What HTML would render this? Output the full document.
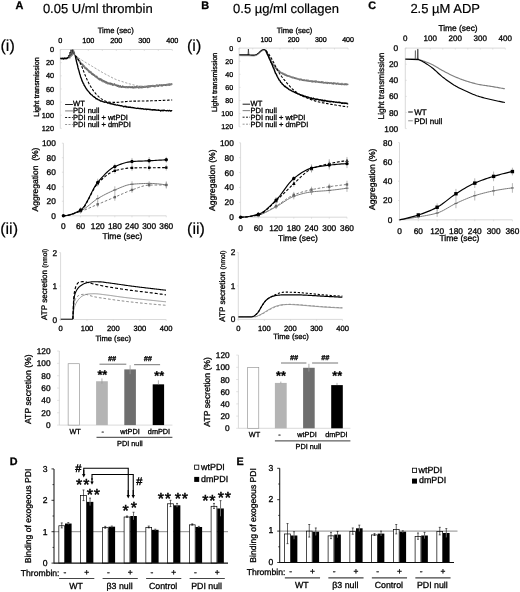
<!DOCTYPE html>
<html lang="en"><head><meta charset="utf-8"><title>Figure</title>
<style>
html,body{margin:0;padding:0;background:#fff;}
body{width:520px;height:592px;overflow:hidden;}
svg{display:block;font-family:"Liberation Sans",sans-serif;text-rendering:geometricPrecision;}
</style></head><body>
<svg width="520" height="592" viewBox="0 0 520 592">
<defs><filter id="soft" x="0" y="0" width="520" height="592" filterUnits="userSpaceOnUse"><feGaussianBlur stdDeviation="0.4"/></filter></defs>
<rect width="520" height="592" fill="#fff"/>
<g filter="url(#soft)">
<rect width="520" height="592" fill="#fff"/>
<text x="15.6" y="9.1" font-size="10.9" font-weight="bold" stroke="#000" stroke-width="0.3">A</text>
<text x="42.9" y="12.8" font-size="13" stroke="#000" stroke-width="0.18">0.05 U/ml thrombin</text>
<text x="201.3" y="9.2" font-size="10.9" font-weight="bold" stroke="#000" stroke-width="0.3">B</text>
<text x="233.1" y="12.8" font-size="13" stroke="#000" stroke-width="0.18">0.5 µg/ml collagen</text>
<text x="368.3" y="9.2" font-size="10.9" font-weight="bold" stroke="#000" stroke-width="0.3">C</text>
<text x="410.4" y="12.8" font-size="13" stroke="#000" stroke-width="0.18">2.5 µM ADP</text>
<text x="0.5" y="50.5" font-size="16" stroke="#000" stroke-width="0.18">(i)</text>
<text x="0.2" y="233.8" font-size="16" stroke="#000" stroke-width="0.18">(ii)</text>
<text x="187" y="50.5" font-size="16" stroke="#000" stroke-width="0.18">(i)</text>
<text x="187.1" y="233.7" font-size="16" stroke="#000" stroke-width="0.18">(ii)</text>
<line x1="60.3" y1="49.5" x2="172.3" y2="49.5" stroke="#d0d0d0" stroke-width="0.8"/>
<line x1="60.3" y1="49.5" x2="60.3" y2="128.4" stroke="#d0d0d0" stroke-width="0.8"/>
<text x="60.3" y="43.4" font-size="7.3" text-anchor="middle" stroke="#000" stroke-width="0.3">0</text>
<text x="88.3" y="43.4" font-size="7.3" text-anchor="middle" stroke="#000" stroke-width="0.3">100</text>
<text x="116.3" y="43.4" font-size="7.3" text-anchor="middle" stroke="#000" stroke-width="0.3">200</text>
<text x="144.3" y="43.4" font-size="7.3" text-anchor="middle" stroke="#000" stroke-width="0.3">300</text>
<text x="172.3" y="43.4" font-size="7.3" text-anchor="middle" stroke="#000" stroke-width="0.3">400</text>
<line x1="60.3" y1="49.5" x2="60.3" y2="51" stroke="#d0d0d0" stroke-width="0.6"/>
<line x1="74.3" y1="49.5" x2="74.3" y2="51" stroke="#d0d0d0" stroke-width="0.6"/>
<line x1="88.3" y1="49.5" x2="88.3" y2="51" stroke="#d0d0d0" stroke-width="0.6"/>
<line x1="102.3" y1="49.5" x2="102.3" y2="51" stroke="#d0d0d0" stroke-width="0.6"/>
<line x1="116.3" y1="49.5" x2="116.3" y2="51" stroke="#d0d0d0" stroke-width="0.6"/>
<line x1="130.3" y1="49.5" x2="130.3" y2="51" stroke="#d0d0d0" stroke-width="0.6"/>
<line x1="144.3" y1="49.5" x2="144.3" y2="51" stroke="#d0d0d0" stroke-width="0.6"/>
<line x1="158.3" y1="49.5" x2="158.3" y2="51" stroke="#d0d0d0" stroke-width="0.6"/>
<line x1="172.3" y1="49.5" x2="172.3" y2="51" stroke="#d0d0d0" stroke-width="0.6"/>
<text x="54" y="52.13" font-size="7.3" text-anchor="end" stroke="#000" stroke-width="0.3">0</text>
<line x1="60.3" y1="49.5" x2="61.8" y2="49.5" stroke="#d0d0d0" stroke-width="0.6"/>
<text x="54" y="65.28" font-size="7.3" text-anchor="end" stroke="#000" stroke-width="0.3">20</text>
<line x1="60.3" y1="62.65" x2="61.8" y2="62.65" stroke="#d0d0d0" stroke-width="0.6"/>
<text x="54" y="78.43" font-size="7.3" text-anchor="end" stroke="#000" stroke-width="0.3">40</text>
<line x1="60.3" y1="75.8" x2="61.8" y2="75.8" stroke="#d0d0d0" stroke-width="0.6"/>
<text x="54" y="91.58" font-size="7.3" text-anchor="end" stroke="#000" stroke-width="0.3">60</text>
<line x1="60.3" y1="88.95" x2="61.8" y2="88.95" stroke="#d0d0d0" stroke-width="0.6"/>
<text x="54" y="104.73" font-size="7.3" text-anchor="end" stroke="#000" stroke-width="0.3">80</text>
<line x1="60.3" y1="102.1" x2="61.8" y2="102.1" stroke="#d0d0d0" stroke-width="0.6"/>
<text x="54" y="117.88" font-size="7.3" text-anchor="end" stroke="#000" stroke-width="0.3">100</text>
<line x1="60.3" y1="115.25" x2="61.8" y2="115.25" stroke="#d0d0d0" stroke-width="0.6"/>
<text x="54" y="131.03" font-size="7.3" text-anchor="end" stroke="#000" stroke-width="0.3">120</text>
<line x1="60.3" y1="128.4" x2="61.8" y2="128.4" stroke="#d0d0d0" stroke-width="0.6"/>
<text x="115.7" y="32.6" font-size="7.7" text-anchor="middle" stroke="#000" stroke-width="0.3">Time (sec)</text>
<text x="38.6" y="86.9" font-size="7.4" text-anchor="middle" transform="rotate(-90 38.6 86.9)" stroke="#000" stroke-width="0.3">Light transmission</text>
<polyline points="60.3,58.7 61.2,58.3 62,58.8 62.8,58.2 63.6,58.9 64.4,58.1 65.2,58.7 66,58 66.8,58.6 67.6,57.6 68.4,58.2" fill="none" stroke="#000" stroke-width="1.5" stroke-linejoin="round"/>
<polyline points="68.4,58 69,55 69.5,57.5 70.1,52 70.6,56 71.1,49.8 71.6,55 72.2,53.5 72.8,49.6 73.4,54 73.9,51.5 74.5,54.5 75.3,56" fill="none" stroke="#000" stroke-width="0.9" stroke-linejoin="round"/>
<polyline points="68.9,58.8 69.5,55.8 70,58.3 70.6,52.8 71.1,56.8 71.6,50.6 72.1,55.8 72.7,54.3 73.3,50.4 73.9,54.8 74.4,52.3 75,55.3 75.8,56.8" fill="none" stroke="#666" stroke-width="0.7" stroke-linejoin="round"/>
<polyline points="75.3,56.54 75.74,56.73 76.18,57.22 76.63,57.22 77.07,58.28 77.51,58.83 77.95,59.48 78.4,59.87 78.84,60.6 79.28,61.01 79.72,61.29 80.17,62.48 80.61,62.99 81.05,63.75 81.49,63.75 81.94,64.11 82.38,64.55 82.82,64.73 83.26,65.95 83.71,65.79 84.15,66.22 84.59,66.96 85.03,67.91 85.48,67.98 85.92,68.03 86.36,68.55 86.8,69.37 87.25,69.54 87.69,69.77 88.13,70.33 88.57,71.02 89.02,71.78 89.46,71.21 89.9,71.78 90.34,72.11 90.79,72 91.23,72.82 91.67,73.16 92.11,74.17 92.56,74.15 93,74.06 93.44,75.08 93.88,75.12 94.33,75.04 94.77,75.7 95.21,76.02 95.65,76.24 96.1,76.82 96.54,76.43 96.98,77.32 97.42,77.99 97.87,78.22 98.31,78.58 98.75,78.85 99.19,79.23 99.64,78.71 100.08,79.56 100.52,79 100.96,79.62 101.41,79.46 101.85,80.58 102.29,80.9 102.73,80.66 103.18,81.47 103.62,80.95 104.06,81.41 104.5,81.61 104.95,81.45 105.39,82.1 105.83,82.75 106.27,82.05 106.72,82.81 107.16,82.67 107.6,83.42 108.04,83.2 108.48,83.42 108.93,83.57 109.37,83.6 109.81,83.25 110.25,84.22 110.7,83.53 111.14,84.14 111.58,84.39 112.02,84.07 112.47,84.49 112.91,84.92 113.35,84.68 113.79,84.53 114.24,84.04 114.68,84.73 115.12,84.95 115.56,85.09 116.01,85.06 116.45,85.58 116.89,85.41 117.33,85.68 117.78,86.04 118.22,85.7 118.66,85.99 119.1,86.85 119.55,86.58 119.99,86.04 120.43,86.51 120.87,86.81 121.32,87.1 121.76,86.85 122.2,86.72 122.64,86.71 123.09,87.17 123.53,87.1 123.97,86.87 124.41,86.98 124.86,86.93 125.3,87.29 125.74,86.88 126.18,87.25 126.63,87.38 127.07,87.28 127.51,86.9 127.95,87.57 128.4,86.97 128.84,87.32 129.28,86.97 129.72,86.69 130.17,87.29 130.61,87.32 131.05,87.22 131.49,87.33 131.94,87.06 132.38,87.04 132.82,87.22 133.26,87.85 133.71,87.53 134.15,87.13 134.59,87.46 135.03,87.15 135.48,87.16 135.92,87.56 136.36,87.14 136.8,86.8 137.25,87.03 137.69,87.32 138.13,87.33 138.57,87.65 139.02,87.05 139.46,87.46 139.9,87.35 140.34,87.15 140.78,87.42 141.23,87.29 141.67,86.85 142.11,87.4 142.55,86.68 143,87.03 143.44,86.97 143.88,87.06 144.32,86.67 144.77,86.84 145.21,86.76 145.65,87.06 146.09,86.48 146.54,86.7 146.98,86.55 147.42,86.2 147.86,87.35 148.31,86.48 148.75,86.01 149.19,86.84 149.63,86.05 150.08,86.45 150.52,86.56 150.96,86.07 151.4,86.09 151.85,86.02 152.29,86.11 152.73,85.62 153.17,85.7 153.62,85.99 154.06,86.3 154.5,86.14 154.94,86.43 155.39,86.08 155.83,85.67 156.27,85.75 156.71,85.14 157.16,85.41 157.6,85.35 158.04,85.7 158.48,85.77 158.93,85.36 159.37,85.31 159.81,84.98 160.25,85.36 160.7,85.43 161.14,85.45 161.58,85.03 162.02,85.82 162.47,85.54 162.91,85.1 163.35,84.93 163.79,84.94 164.24,85.04 164.68,84.94 165.12,85.04 165.56,85.08 166.01,85.21 166.45,85.1 166.89,84.67 167.33,84.77 167.78,84.49 168.22,84.38 168.66,85.08 169.1,84.32 169.55,85.01 169.99,84.25 170.43,84.38 170.87,84.58 171.32,84.21 171.76,84.27 172.2,84.03" fill="none" stroke="#858585" stroke-width="1.9" stroke-linejoin="round"/>
<polyline points="75.3,55.74 75.67,56.42 76.05,56.65 76.42,58.41 76.8,57.91 77.17,59.44 77.54,57.5 77.92,59.46 78.29,60.24 78.67,60.23 79.04,61.46 79.42,61.66 79.79,61.61 80.16,62.45 80.54,64.19 80.91,63.22 81.29,63.67 81.66,63.68 82.03,64.41 82.41,64.04 82.78,65.04 83.16,66.9 83.53,66.53 83.91,66.68 84.28,67.32 84.65,68.12 85.03,67.79 85.4,68.97 85.78,68.78 86.15,68.65 86.52,69.86 86.9,67.97 87.27,69.3 87.65,70.11 88.02,69.8 88.39,70.55 88.77,70.62 89.14,70.94 89.52,73.12 89.89,72.3 90.27,72.25 90.64,73.33 91.01,72.79 91.39,73.72 91.76,73.74 92.14,74.75 92.51,73.37 92.88,74.88 93.26,74.82 93.63,74.4 94.01,75.91 94.38,75.12 94.75,76.76 95.13,76.42 95.5,76.78 95.88,76.7 96.25,77.41 96.63,76.14 97,77.45 97.37,77.31 97.75,78.05 98.12,78.1 98.5,78.7 98.87,78.13 99.24,79.83 99.62,80.31 99.99,79.14 100.37,79.46 100.74,79.83 101.12,80.58 101.49,81.12 101.86,79.61 102.24,80.13 102.61,80.07 102.99,80.23 103.36,80.12 103.73,81.41 104.11,80.75 104.48,82.39 104.86,82.23 105.23,81.33 105.6,81.5 105.98,81.89 106.35,83.16 106.73,82.08 107.1,81.87 107.48,82.82 107.85,83.19 108.22,82.76 108.6,84.15 108.97,83.52 109.35,83.77 109.72,83.17 110.09,83.74 110.47,83.79 110.84,82.74 111.22,84.25 111.59,83.22 111.96,84.29 112.34,83.6 112.71,85.62 113.09,84.79 113.46,85.18 113.84,85.31 114.21,84.17 114.58,83.74 114.96,84.91 115.33,85.68 115.71,85.33 116.08,85.8 116.45,85.98 116.83,84.75 117.2,85.83 117.58,86.86 117.95,85.57 118.33,84.87 118.7,85.96 119.07,85.94 119.45,86.52 119.82,85.9 120.2,86.53 120.57,85.35 120.94,87.12 121.32,87.6 121.69,87.51 122.07,86.02 122.44,87.08 122.81,85.31 123.19,87.14 123.56,86.97 123.94,86.47 124.31,87.22 124.69,87.13 125.06,87.58 125.43,87.15 125.81,87.22 126.18,86.04 126.56,86.48 126.93,86.87 127.3,87.31 127.68,87.15 128.05,87.99 128.43,86.7 128.8,87.06 129.17,87.34 129.55,87.08 129.92,87.49 130.3,86.91 130.67,88.01 131.05,87.06 131.42,87.86 131.79,87.24 132.17,88.08 132.54,86.5 132.92,87.56 133.29,87.04 133.66,87.41 134.04,87.94 134.41,86.66 134.79,86.56 135.16,86.75 135.54,87.44 135.91,86.26 136.28,87.35 136.66,86.59 137.03,86.67 137.41,87.1 137.78,87.5 138.15,86.94 138.53,87.01 138.9,87.24 139.28,87.1 139.65,85.76 140.02,86.98 140.4,87.24 140.77,87.78 141.15,88.28 141.52,87.49 141.9,87.14 142.27,86.54 142.64,87.09 143.02,87.44 143.39,87.67 143.77,86.46 144.14,87.04 144.51,87.32 144.89,87.86 145.26,86.94 145.64,86.47 146.01,86.35 146.38,86.49 146.76,86.29 147.13,87.07 147.51,87.17 147.88,86.94 148.26,87.16 148.63,86.22 149,86.64 149.38,86.19 149.75,86.39 150.13,87.01 150.5,86.28 150.87,85.24 151.25,86.1 151.62,85.81 152,85.34 152.37,85.7 152.75,86.63 153.12,87 153.49,85.77 153.87,86.56 154.24,86.62 154.62,85.3 154.99,85.88 155.36,85.85 155.74,85.93 156.11,84.92 156.49,85.57 156.86,86.31 157.23,86.39 157.61,86.67 157.98,85.44 158.36,86.62 158.73,85.92 159.11,84.77 159.48,85.9 159.85,85.25 160.23,85.69 160.6,85.31 160.98,85.99 161.35,85.43 161.72,85.1 162.1,85.75 162.47,85.32 162.85,84.91 163.22,85.8 163.59,84.84 163.97,84.67 164.34,84.68 164.72,84.14 165.09,84.6 165.47,85.88 165.84,84.32 166.21,84.78 166.59,84.13 166.96,84.36 167.34,85.49 167.71,85.11 168.08,84.24 168.46,84.53 168.83,84.03 169.21,84.02 169.58,83.9 169.96,83.87 170.33,84.5 170.7,84.6 171.08,84.5 171.45,84.09 171.83,83.4 172.2,84.06" fill="none" stroke="#5c5c5c" stroke-width="0.5" stroke-linejoin="round"/>
<polyline points="75.3,55.5 76.53,56.41 77.75,57.3 78.98,58.17 80.21,59.01 81.43,59.83 82.66,60.62 83.89,61.38 85.11,62.12 86.34,62.85 87.57,63.57 88.79,64.3 90.02,65.03 91.25,65.76 92.47,66.49 93.7,67.22 94.93,67.96 96.15,68.69 97.38,69.44 98.61,70.2 99.83,70.94 101.06,71.68 102.28,72.39 103.51,73.08 104.74,73.75 105.96,74.41 107.19,75.06 108.42,75.7 109.64,76.34 110.87,76.99 112.1,77.64 113.32,78.27 114.55,78.86 115.78,79.39 117,79.87 118.23,80.31 119.46,80.72 120.68,81.11 121.91,81.5 123.14,81.88 124.36,82.28 125.59,82.68 126.82,83.07 128.04,83.45 129.27,83.8 130.5,84.13 131.72,84.46 132.95,84.77 134.18,85.07 135.4,85.33 136.63,85.55 137.86,85.72 139.08,85.89 140.31,86.06 141.54,86.2 142.76,86.31 143.99,86.38 145.22,86.4 146.44,86.35 147.67,86.26 148.89,86.15 150.12,86.03 151.35,85.93 152.57,85.83 153.8,85.73 155.03,85.63 156.25,85.53 157.48,85.42 158.71,85.31 159.93,85.2 161.16,85.09 162.39,84.98 163.61,84.87 164.84,84.75 166.07,84.63 167.29,84.51 168.52,84.39 169.75,84.26 170.97,84.13 172.2,84" fill="none" stroke="#8c8c8c" stroke-width="0.8" stroke-linejoin="round" stroke-dasharray="2.2,1.6"/>
<polyline points="75.3,55.83 75.74,58.18 76.18,60.1 76.63,62.05 77.07,63.71 77.51,65.24 77.95,67.47 78.4,69.18 78.84,70.29 79.28,72.16 79.72,73.89 80.17,74.97 80.61,76.91 81.05,77.87 81.49,79 81.94,80.59 82.38,81.45 82.82,82.27 83.26,83.48 83.71,83.85 84.15,85.36 84.59,85.68 85.03,86.64 85.48,87.25 85.92,88.12 86.36,88.89 86.8,89.25 87.25,90.17 87.69,90.58 88.13,91.08 88.57,91.7 89.02,92.06 89.46,92.58 89.9,93.37 90.34,93.63 90.79,94.31 91.23,94.62 91.67,94.78 92.11,95.03 92.56,95.64 93,96.19 93.44,96.51 93.88,96.71 94.33,97.37 94.77,97.19 95.21,97.58 95.65,98.12 96.1,98.77 96.54,98.72 96.98,98.73 97.42,99.27 97.87,99.53 98.31,99.81 98.75,99.8 99.19,99.95 99.64,100.33 100.08,100.59 100.52,100.99 100.96,101.27 101.41,100.94 101.85,101.14 102.29,101.39 102.73,101.5 103.18,101.78 103.62,101.91 104.06,102 104.5,102.32 104.95,102.17 105.39,102.13 105.83,102.15 106.27,102.35 106.72,102.46 107.16,102.41 107.6,102.98 108.04,103 108.48,103 108.93,103.02 109.37,103.01 109.81,103.24 110.25,103.85 110.7,103.22 111.14,103.76 111.58,103.97 112.02,103.97 112.47,104 112.91,104.3 113.35,104.06 113.79,104.46 114.24,104.72 114.68,104.37 115.12,104.51 115.56,104.78 116.01,105.02 116.45,105.18 116.89,105.15 117.33,104.99 117.78,105 118.22,105.33 118.66,105.45 119.1,105.26 119.55,105.56 119.99,105.69 120.43,105.9 120.87,105.61 121.32,105.97 121.76,105.74 122.2,105.95 122.64,106.09 123.09,106.46 123.53,106.85 123.97,106.38 124.41,106.49 124.86,106.66 125.3,106.3 125.74,106.76 126.18,106.47 126.63,107.05 127.07,107.09 127.51,106.99 127.95,106.82 128.4,107.33 128.84,107.14 129.28,107.18 129.72,107.33 130.17,106.98 130.61,107.43 131.05,107.6 131.49,107.54 131.94,107.57 132.38,107.43 132.82,107.78 133.26,107.76 133.71,107.79 134.15,107.74 134.59,108.05 135.03,108.18 135.48,108.08 135.92,108.23 136.36,108.36 136.8,108.46 137.25,108.27 137.69,108.24 138.13,108.26 138.57,108.39 139.02,108.54 139.46,108.66 139.9,108.47 140.34,108.62 140.78,108.47 141.23,108.92 141.67,108.67 142.11,108.86 142.55,108.71 143,108.84 143.44,108.82 143.88,109.29 144.32,109.1 144.77,109.05 145.21,108.95 145.65,109.06 146.09,109.31 146.54,109.55 146.98,109.04 147.42,109.17 147.86,109.35 148.31,109.3 148.75,109.16 149.19,109.5 149.63,109.67 150.08,109.28 150.52,109.64 150.96,109.81 151.4,109.85 151.85,109.63 152.29,110.15 152.73,109.87 153.17,109.66 153.62,110.01 154.06,109.67 154.5,110.06 154.94,109.71 155.39,110.11 155.83,109.89 156.27,110.23 156.71,110.2 157.16,110.17 157.6,110.13 158.04,110.35 158.48,109.86 158.93,110.29 159.37,110.32 159.81,110.37 160.25,110.45 160.7,111 161.14,110.38 161.58,110.53 162.02,110.44 162.47,110.72 162.91,110.1 163.35,110.8 163.79,110.39 164.24,110.13 164.68,110.37 165.12,110.56 165.56,110.65 166.01,110.63 166.45,110.81 166.89,110.67 167.33,110.69 167.78,110.34 168.22,110.83 168.66,110.95 169.1,110.71 169.55,110.46 169.99,110.58 170.43,111.14 170.87,110.74 171.32,110.75 171.76,110.74 172.2,111.02" fill="none" stroke="#000" stroke-width="1.35" stroke-linejoin="round"/>
<polyline points="75.3,55.5 76.53,56.93 77.75,58.66 78.98,60.65 80.21,63.03 81.43,65.71 82.66,68.6 83.89,71.88 85.11,75.1 86.34,78 87.57,80.75 88.79,83.19 90.02,85.36 91.25,87.41 92.47,89.32 93.7,91.06 94.93,92.63 96.15,94.03 97.38,95.34 98.61,96.56 99.83,97.66 101.06,98.61 102.28,99.39 103.51,100.07 104.74,100.72 105.96,101.29 107.19,101.74 108.42,102.03 109.64,102.15 110.87,102.23 112.1,102.3 113.32,102.36 114.55,102.39 115.78,102.4 117,102.37 118.23,102.3 119.46,102.2 120.68,102.08 121.91,101.95 123.14,101.83 124.36,101.72 125.59,101.59 126.82,101.46 128.04,101.34 129.27,101.25 130.5,101.19 131.72,101.17 132.95,101.14 134.18,101.12 135.4,101.11 136.63,101.09 137.86,101.08 139.08,101.07 140.31,101.05 141.54,101.04 142.76,101.02 143.99,101 145.22,100.97 146.44,100.94 147.67,100.91 148.89,100.87 150.12,100.84 151.35,100.8 152.57,100.76 153.8,100.72 155.03,100.68 156.25,100.64 157.48,100.59 158.71,100.55 159.93,100.51 161.16,100.46 162.39,100.42 163.61,100.37 164.84,100.32 166.07,100.27 167.29,100.22 168.52,100.16 169.75,100.11 170.97,100.06 172.2,100" fill="none" stroke="#000" stroke-width="1.1" stroke-linejoin="round" stroke-dasharray="2.6,1.6"/>
<line x1="65.1" y1="104.5" x2="72.9" y2="104.5" stroke="#000" stroke-width="0.9"/>
<line x1="65.1" y1="110.9" x2="72.9" y2="110.9" stroke="#8c8c8c" stroke-width="1.1"/>
<line x1="65.1" y1="117.5" x2="72.9" y2="117.5" stroke="#000" stroke-width="0.9" stroke-dasharray="2,1.4"/>
<line x1="65.1" y1="124.5" x2="72.9" y2="124.5" stroke="#8c8c8c" stroke-width="0.9" stroke-dasharray="2,1.4"/>
<text x="73.1" y="106" font-size="7.5" stroke="#000" stroke-width="0.3">WT</text>
<text x="73.1" y="112.9" font-size="7.5" stroke="#000" stroke-width="0.3">PDI null</text>
<text x="73.1" y="119.8" font-size="7.5" stroke="#000" stroke-width="0.3">PDI null + wtPDI</text>
<text x="73.1" y="126.8" font-size="7.5" stroke="#000" stroke-width="0.3">PDI null + dmPDI</text>
<line x1="239.1" y1="48.1" x2="348.1" y2="48.1" stroke="#d0d0d0" stroke-width="0.8"/>
<line x1="239.1" y1="48.1" x2="239.1" y2="126.76" stroke="#d0d0d0" stroke-width="0.8"/>
<text x="239.1" y="41.6" font-size="7.1" text-anchor="middle" stroke="#000" stroke-width="0.3">0</text>
<text x="266.35" y="41.6" font-size="7.1" text-anchor="middle" stroke="#000" stroke-width="0.3">100</text>
<text x="293.6" y="41.6" font-size="7.1" text-anchor="middle" stroke="#000" stroke-width="0.3">200</text>
<text x="320.85" y="41.6" font-size="7.1" text-anchor="middle" stroke="#000" stroke-width="0.3">300</text>
<text x="348.1" y="41.6" font-size="7.1" text-anchor="middle" stroke="#000" stroke-width="0.3">400</text>
<line x1="239.1" y1="48.1" x2="239.1" y2="49.6" stroke="#d0d0d0" stroke-width="0.6"/>
<line x1="252.72" y1="48.1" x2="252.72" y2="49.6" stroke="#d0d0d0" stroke-width="0.6"/>
<line x1="266.35" y1="48.1" x2="266.35" y2="49.6" stroke="#d0d0d0" stroke-width="0.6"/>
<line x1="279.98" y1="48.1" x2="279.98" y2="49.6" stroke="#d0d0d0" stroke-width="0.6"/>
<line x1="293.6" y1="48.1" x2="293.6" y2="49.6" stroke="#d0d0d0" stroke-width="0.6"/>
<line x1="307.23" y1="48.1" x2="307.23" y2="49.6" stroke="#d0d0d0" stroke-width="0.6"/>
<line x1="320.85" y1="48.1" x2="320.85" y2="49.6" stroke="#d0d0d0" stroke-width="0.6"/>
<line x1="334.48" y1="48.1" x2="334.48" y2="49.6" stroke="#d0d0d0" stroke-width="0.6"/>
<line x1="348.1" y1="48.1" x2="348.1" y2="49.6" stroke="#d0d0d0" stroke-width="0.6"/>
<text x="233.2" y="50.66" font-size="7.1" text-anchor="end" stroke="#000" stroke-width="0.3">0</text>
<line x1="239.1" y1="48.1" x2="240.6" y2="48.1" stroke="#d0d0d0" stroke-width="0.6"/>
<text x="233.2" y="63.77" font-size="7.1" text-anchor="end" stroke="#000" stroke-width="0.3">20</text>
<line x1="239.1" y1="61.21" x2="240.6" y2="61.21" stroke="#d0d0d0" stroke-width="0.6"/>
<text x="233.2" y="76.88" font-size="7.1" text-anchor="end" stroke="#000" stroke-width="0.3">40</text>
<line x1="239.1" y1="74.32" x2="240.6" y2="74.32" stroke="#d0d0d0" stroke-width="0.6"/>
<text x="233.2" y="89.99" font-size="7.1" text-anchor="end" stroke="#000" stroke-width="0.3">60</text>
<line x1="239.1" y1="87.43" x2="240.6" y2="87.43" stroke="#d0d0d0" stroke-width="0.6"/>
<text x="233.2" y="103.1" font-size="7.1" text-anchor="end" stroke="#000" stroke-width="0.3">80</text>
<line x1="239.1" y1="100.54" x2="240.6" y2="100.54" stroke="#d0d0d0" stroke-width="0.6"/>
<text x="233.2" y="116.21" font-size="7.1" text-anchor="end" stroke="#000" stroke-width="0.3">100</text>
<line x1="239.1" y1="113.65" x2="240.6" y2="113.65" stroke="#d0d0d0" stroke-width="0.6"/>
<text x="233.2" y="129.32" font-size="7.1" text-anchor="end" stroke="#000" stroke-width="0.3">120</text>
<line x1="239.1" y1="126.76" x2="240.6" y2="126.76" stroke="#d0d0d0" stroke-width="0.6"/>
<text x="294.5" y="33.2" font-size="7.6" text-anchor="middle" stroke="#000" stroke-width="0.3">Time (sec)</text>
<text x="216.9" y="82.3" font-size="7.4" text-anchor="middle" transform="rotate(-90 216.9 82.3)" stroke="#000" stroke-width="0.3">Light transmission</text>
<polyline points="248,55 248.4,49 248.9,55" fill="none" stroke="#222" stroke-width="0.7" stroke-linejoin="round"/>
<polyline points="239.2,54.9 239.65,54.92 240.11,54.93 240.56,54.95 241.02,54.97 241.47,54.98 241.93,54.99 242.38,55 242.83,55 243.29,55 243.74,55 244.2,55 244.65,55 245.11,55 245.56,55 246.01,55 246.47,55 246.92,55 247.38,55 247.83,55 248.28,55.01 248.74,55.03 249.19,55.06 249.65,55.1 250.1,55.14 250.56,55.17 251.01,55.2 251.46,55.22 251.92,55.25 252.37,55.27 252.83,55.29 253.28,55.3 253.74,55.3 254.19,55.26 254.64,55.18 255.1,55.07 255.55,54.94 256.01,54.8 256.46,54.61 256.92,54.36 257.37,54.05 257.82,53.71 258.28,53.37 258.73,53.02 259.19,52.61 259.64,52.18 260.09,51.74 260.55,51.33 261,51 261.46,50.69 261.91,50.39 262.37,50.1 262.82,49.85 263.27,49.68 263.73,49.6 264.18,49.65 264.64,49.83 265.09,50.13 265.55,50.52 266,51" fill="none" stroke="#000" stroke-width="1.4" stroke-linejoin="round"/>
<polyline points="239.2,55.6 239.65,55.62 240.11,55.63 240.56,55.65 241.02,55.67 241.47,55.68 241.93,55.69 242.38,55.7 242.83,55.7 243.29,55.7 243.74,55.7 244.2,55.7 244.65,55.7 245.11,55.7 245.56,55.7 246.01,55.7 246.47,55.7 246.92,55.7 247.38,55.7 247.83,55.7 248.28,55.71 248.74,55.73 249.19,55.76 249.65,55.8 250.1,55.84 250.56,55.87 251.01,55.9 251.46,55.92 251.92,55.95 252.37,55.97 252.83,55.99 253.28,56 253.74,56 254.19,55.96 254.64,55.88 255.1,55.77 255.55,55.64 256.01,55.5 256.46,55.31 256.92,55.06 257.37,54.75 257.82,54.41 258.28,54.07 258.73,53.72 259.19,53.31 259.64,52.88 260.09,52.44 260.55,52.03 261,51.7 261.46,51.39 261.91,51.09 262.37,50.8 262.82,50.55 263.27,50.38 263.73,50.3 264.18,50.35 264.64,50.53 265.09,50.83 265.55,51.22 266,51.7" fill="none" stroke="#8c8c8c" stroke-width="0.9" stroke-linejoin="round"/>
<polyline points="266,51.35 266.41,51.99 266.83,52.54 267.24,53.61 267.65,54.62 268.06,55.08 268.48,56.11 268.89,56.73 269.3,57.55 269.71,58.39 270.13,59.19 270.54,60.27 270.95,60.95 271.36,61.48 271.78,62.41 272.19,63.08 272.6,63.88 273.01,64.44 273.43,65.13 273.84,65.26 274.25,66.31 274.66,67.12 275.08,66.99 275.49,68.25 275.9,68.41 276.31,68.75 276.73,68.78 277.14,69.91 277.55,69.78 277.96,70.27 278.38,70.9 278.79,70.84 279.2,71.18 279.61,71.44 280.03,72 280.44,72.44 280.85,72.66 281.26,72.91 281.68,72.96 282.09,73.3 282.5,73.31 282.92,74.2 283.33,73.95 283.74,73.61 284.15,74.02 284.57,74.88 284.98,74.32 285.39,74.73 285.8,75.12 286.22,74.92 286.63,75.63 287.04,75.96 287.45,75.5 287.87,76.15 288.28,75.81 288.69,75.94 289.1,76.41 289.52,76.56 289.93,76.5 290.34,77.01 290.75,76.57 291.17,76.87 291.58,76.95 291.99,77.54 292.4,77.68 292.82,77.77 293.23,77.4 293.64,77.88 294.05,78.09 294.47,77.69 294.88,78 295.29,78.49 295.7,78.62 296.12,78.62 296.53,78.8 296.94,78.85 297.35,78.92 297.77,78.96 298.18,78.87 298.59,79.12 299.01,79.18 299.42,79.96 299.83,79.53 300.24,79.55 300.66,79.58 301.07,79.7 301.48,79.74 301.89,80.02 302.31,79.95 302.72,80.23 303.13,79.92 303.54,80.25 303.96,80.45 304.37,80.01 304.78,80.4 305.19,80.49 305.61,80.4 306.02,80.43 306.43,80.15 306.84,80.96 307.26,80.49 307.67,80.47 308.08,81 308.49,80.44 308.91,81.19 309.32,81.11 309.73,81.2 310.14,81.07 310.56,80.85 310.97,80.74 311.38,81.62 311.79,81.19 312.21,81.23 312.62,81.8 313.03,81.29 313.44,81.44 313.86,81.49 314.27,81.56 314.68,81.38 315.09,81.55 315.51,82.05 315.92,81.97 316.33,81.08 316.75,81.38 317.16,82 317.57,81.93 317.98,81.91 318.4,82.31 318.81,81.65 319.22,82.44 319.63,82.22 320.05,82.36 320.46,82.33 320.87,82.52 321.28,82.29 321.7,82.26 322.11,82.63 322.52,82.52 322.93,82.2 323.35,82.89 323.76,82.89 324.17,82.99 324.58,82.69 325,82.79 325.41,82.65 325.82,82.54 326.23,82.84 326.65,82.9 327.06,82.73 327.47,83.39 327.88,82.57 328.3,82.8 328.71,82.87 329.12,83.4 329.53,83.05 329.95,83.07 330.36,82.97 330.77,83.03 331.18,82.93 331.6,83.55 332.01,83.48 332.42,83.61 332.84,83.24 333.25,84.07 333.66,83.23 334.07,82.99 334.49,83.47 334.9,83.61 335.31,83.8 335.72,83.39 336.14,83.83 336.55,84.14 336.96,83.54 337.37,83.6 337.79,83.39 338.2,83.91 338.61,84.1 339.02,84.11 339.44,84.16 339.85,84.34 340.26,84.05 340.67,84.29 341.09,83.84 341.5,83.91 341.91,84.2 342.32,83.97 342.74,84.35 343.15,84.58 343.56,84.37 343.97,84.12 344.39,84.14 344.8,84.7 345.21,84.19 345.62,84.45 346.04,84.39 346.45,84.5 346.86,84.79 347.27,84.41 347.69,84.22 348.1,84.96" fill="none" stroke="#858585" stroke-width="1.5" stroke-linejoin="round"/>
<polyline points="266,51.6 266.34,52.41 266.69,52.67 267.03,53.62 267.37,54.45 267.72,55.1 268.06,54.99 268.4,55.59 268.75,56.59 269.09,57.19 269.44,58.04 269.78,58.16 270.12,58.13 270.47,60.07 270.81,60.91 271.15,61.51 271.5,62.62 271.84,62.88 272.18,62.91 272.53,64.09 272.87,64.14 273.21,65.27 273.56,65.32 273.9,65.92 274.24,66.31 274.59,66.71 274.93,66.47 275.27,67.61 275.62,66.98 275.96,68.63 276.31,69.24 276.65,70.07 276.99,69.66 277.34,69.5 277.68,69.43 278.02,71.33 278.37,70.11 278.71,71.44 279.05,70.27 279.4,71.55 279.74,72.13 280.08,72.21 280.43,72.27 280.77,72.14 281.11,72.31 281.46,73.37 281.8,73.31 282.15,73.23 282.49,73.57 282.83,73.24 283.18,74.29 283.52,74.56 283.86,73.8 284.21,74.36 284.55,74.94 284.89,74.33 285.24,75.69 285.58,75.6 285.92,74.94 286.27,75.65 286.61,76.11 286.95,74.94 287.3,75.92 287.64,75.71 287.98,75.82 288.33,76.37 288.67,75.97 289.02,75.68 289.36,75.8 289.7,76.56 290.05,76.97 290.39,76.8 290.73,76.86 291.08,77.04 291.42,77.74 291.76,77.52 292.11,77.05 292.45,77.36 292.79,78.14 293.14,77.44 293.48,77.63 293.82,77.89 294.17,77.53 294.51,78.51 294.86,77.22 295.2,78.95 295.54,78.2 295.89,77.92 296.23,78.71 296.57,77.9 296.92,79.01 297.26,79.2 297.6,78.68 297.95,78.85 298.29,79.54 298.63,78.89 298.98,79.29 299.32,79.51 299.66,80.13 300.01,79.28 300.35,79.6 300.69,80.16 301.04,78.57 301.38,79.67 301.73,78.99 302.07,79.08 302.41,80.85 302.76,80.13 303.1,80.76 303.44,80.04 303.79,80.45 304.13,80.07 304.47,80.07 304.82,80.33 305.16,80.48 305.5,81.16 305.85,80.44 306.19,80.75 306.53,80.51 306.88,80.74 307.22,80.13 307.57,81.26 307.91,80.58 308.25,80.88 308.6,80.81 308.94,81.4 309.28,81.23 309.63,81.05 309.97,81.16 310.31,81.28 310.66,81.51 311,81.44 311.34,81.83 311.69,82.02 312.03,81.61 312.37,80.78 312.72,82.2 313.06,82.42 313.41,81.33 313.75,81.35 314.09,80.65 314.44,81.96 314.78,81.2 315.12,82.51 315.47,80.61 315.81,81.8 316.15,82.11 316.5,81.66 316.84,81.52 317.18,82.03 317.53,81.72 317.87,81.84 318.21,82.02 318.56,81.82 318.9,82 319.24,82.5 319.59,82 319.93,82.29 320.28,81.91 320.62,82.7 320.96,81.74 321.31,82.78 321.65,81.03 321.99,82.01 322.34,81.74 322.68,82.94 323.02,82.64 323.37,81.96 323.71,82.33 324.05,83.22 324.4,82.62 324.74,82.93 325.08,82.03 325.43,82.06 325.77,83.03 326.12,83.84 326.46,82.59 326.8,83.13 327.15,82.47 327.49,83.49 327.83,82.75 328.18,82.79 328.52,82.16 328.86,82.86 329.21,83.16 329.55,83.72 329.89,82.6 330.24,83.6 330.58,83.04 330.92,83.09 331.27,82.83 331.61,82.52 331.95,82.76 332.3,84.07 332.64,82.83 332.99,83.2 333.33,83.92 333.67,82.5 334.02,83.68 334.36,83.28 334.7,83.62 335.05,83.96 335.39,83.53 335.73,83.53 336.08,83.98 336.42,83.97 336.76,83.38 337.11,83.65 337.45,83.16 337.79,84.37 338.14,83.28 338.48,83.93 338.83,84.66 339.17,84.27 339.51,83.8 339.86,83.63 340.2,83.71 340.54,84.43 340.89,84.2 341.23,84.07 341.57,85.27 341.92,83.75 342.26,83.93 342.6,84.01 342.95,84.31 343.29,84.37 343.63,84.14 343.98,84.62 344.32,84.55 344.66,84.2 345.01,83.26 345.35,84.74 345.7,83.98 346.04,84.14 346.38,84.39 346.73,83.92 347.07,84.14 347.41,84.55 347.76,84.39 348.1,84.71" fill="none" stroke="#606060" stroke-width="0.45" stroke-linejoin="round"/>
<polyline points="266,51 267.04,52.51 268.08,54.13 269.12,55.92 270.16,57.85 271.2,59.77 272.24,61.58 273.27,63.21 274.31,64.8 275.35,66.27 276.39,67.57 277.43,68.68 278.47,69.68 279.51,70.58 280.55,71.36 281.59,72.06 282.63,72.68 283.67,73.26 284.71,73.79 285.75,74.28 286.78,74.75 287.82,75.2 288.86,75.62 289.9,76.02 290.94,76.39 291.98,76.74 293.02,77.07 294.06,77.38 295.1,77.68 296.14,77.97 297.18,78.24 298.22,78.5 299.26,78.74 300.29,78.97 301.33,79.18 302.37,79.37 303.41,79.54 304.45,79.71 305.49,79.87 306.53,80.02 307.57,80.17 308.61,80.31 309.65,80.44 310.69,80.57 311.73,80.7 312.77,80.82 313.81,80.94 314.84,81.06 315.88,81.18 316.92,81.29 317.96,81.41 319,81.52 320.04,81.63 321.08,81.74 322.12,81.85 323.16,81.96 324.2,82.06 325.24,82.16 326.28,82.25 327.32,82.35 328.35,82.43 329.39,82.52 330.43,82.6 331.47,82.67 332.51,82.74 333.55,82.82 334.59,82.89 335.63,82.95 336.67,83.02 337.71,83.09 338.75,83.15 339.79,83.21 340.83,83.27 341.86,83.33 342.9,83.38 343.94,83.43 344.98,83.48 346.02,83.52 347.06,83.56 348.1,83.6" fill="none" stroke="#8c8c8c" stroke-width="0.9" stroke-linejoin="round" stroke-dasharray="2.2,1.6"/>
<polyline points="266,50.81 266.37,51.79 266.75,52.48 267.12,53.48 267.5,54.44 267.87,55.19 268.25,55.79 268.62,56.89 269,57.8 269.37,58.84 269.75,59.45 270.12,60.22 270.5,60.92 270.87,62.4 271.25,62.65 271.62,63.47 272,64.51 272.37,65.03 272.75,66.47 273.12,67.17 273.5,68.12 273.87,68.73 274.25,69.73 274.62,70.89 275,71.79 275.37,73.04 275.75,73.53 276.12,73.74 276.5,74.9 276.87,75.54 277.25,76.56 277.62,77.03 278,77.84 278.37,78.36 278.75,79.2 279.12,80 279.5,80.19 279.87,80.48 280.25,81.21 280.62,82.23 281,82.43 281.37,82.78 281.75,83.08 282.12,83.91 282.49,84.17 282.87,84.48 283.24,84.77 283.62,85.22 283.99,85.54 284.37,86.06 284.74,86.53 285.12,86.2 285.49,86.6 285.87,87.17 286.24,87.49 286.62,87.44 286.99,87.89 287.37,88.19 287.74,88.43 288.12,88.67 288.49,88.99 288.87,89.41 289.24,89.61 289.62,89.8 289.99,89.95 290.37,89.96 290.74,90.21 291.12,90.65 291.49,90.74 291.87,91.07 292.24,91.16 292.62,91.31 292.99,91.58 293.37,91.37 293.74,91.83 294.12,91.93 294.49,92.4 294.87,92.28 295.24,92.64 295.62,92.68 295.99,93.04 296.37,93.26 296.74,93.25 297.12,93.48 297.49,93.66 297.87,93.94 298.24,93.88 298.62,94.11 298.99,94.17 299.36,94.21 299.74,94.59 300.11,94.79 300.49,94.68 300.86,95.3 301.24,94.97 301.61,95.4 301.99,95.46 302.36,95.17 302.74,95.63 303.11,95.45 303.49,95.86 303.86,96.14 304.24,96.5 304.61,96.41 304.99,96.07 305.36,96.42 305.74,96.91 306.11,96.76 306.49,97.19 306.86,96.81 307.24,96.95 307.61,96.91 307.99,97.21 308.36,97.65 308.74,97.32 309.11,97.78 309.49,97.8 309.86,97.97 310.24,97.87 310.61,98.02 310.99,98.54 311.36,97.96 311.74,98.46 312.11,98.71 312.49,98.59 312.86,98.92 313.24,98.08 313.61,98.7 313.99,98.62 314.36,98.85 314.74,99 315.11,99.19 315.48,99.01 315.86,99.43 316.23,99.02 316.61,99.6 316.98,99.43 317.36,99.19 317.73,99.26 318.11,99.33 318.48,99.55 318.86,99.84 319.23,100.15 319.61,100.1 319.98,99.74 320.36,99.61 320.73,100.07 321.11,99.9 321.48,100.21 321.86,100.16 322.23,100.87 322.61,100.07 322.98,100.53 323.36,100.89 323.73,100.49 324.11,100.47 324.48,101.02 324.86,100.31 325.23,100.44 325.61,100.59 325.98,100.96 326.36,101.09 326.73,100.96 327.11,101.47 327.48,101.04 327.86,101.13 328.23,101.12 328.61,101.48 328.98,101.28 329.36,101.25 329.73,101.72 330.11,101.69 330.48,101.68 330.86,101.27 331.23,101.36 331.61,101.57 331.98,101.62 332.35,101.63 332.73,101.72 333.1,101.94 333.48,101.66 333.85,101.96 334.23,101.88 334.6,101.91 334.98,101.99 335.35,102.24 335.73,102.2 336.1,102.03 336.48,102.3 336.85,102.31 337.23,102.41 337.6,102.32 337.98,102.62 338.35,102.54 338.73,102.27 339.1,102.29 339.48,102.31 339.85,102.71 340.23,102.54 340.6,102.65 340.98,102.75 341.35,103.05 341.73,103.29 342.1,102.86 342.48,103.33 342.85,103.08 343.23,103.25 343.6,102.99 343.98,102.84 344.35,103.23 344.73,103.43 345.1,102.89 345.48,103.23 345.85,103.32 346.23,103.44 346.6,103.14 346.98,103.28 347.35,103.61 347.73,103.83 348.1,103.52" fill="none" stroke="#000" stroke-width="1.4" stroke-linejoin="round"/>
<polyline points="266,50.5 267.04,51.74 268.08,53.11 269.12,54.63 270.16,56.28 271.2,58.02 272.24,59.83 273.27,61.75 274.31,63.85 275.35,65.98 276.39,68.02 277.43,69.9 278.47,71.71 279.51,73.44 280.55,75.03 281.59,76.48 282.63,77.84 283.67,79.14 284.71,80.38 285.75,81.6 286.78,82.82 287.82,84.05 288.86,85.26 289.9,86.42 290.94,87.53 291.98,88.56 293.02,89.49 294.06,90.36 295.1,91.19 296.14,91.99 297.18,92.74 298.22,93.46 299.26,94.14 300.29,94.77 301.33,95.35 302.37,95.89 303.41,96.4 304.45,96.9 305.49,97.38 306.53,97.84 307.57,98.28 308.61,98.71 309.65,99.12 310.69,99.51 311.73,99.88 312.77,100.24 313.81,100.58 314.84,100.9 315.88,101.2 316.92,101.48 317.96,101.75 319,102 320.04,102.24 321.08,102.46 322.12,102.68 323.16,102.88 324.2,103.08 325.24,103.27 326.28,103.46 327.32,103.65 328.35,103.83 329.39,104.01 330.43,104.19 331.47,104.37 332.51,104.55 333.55,104.72 334.59,104.9 335.63,105.07 336.67,105.24 337.71,105.41 338.75,105.57 339.79,105.73 340.83,105.89 341.86,106.04 342.9,106.19 343.94,106.34 344.98,106.49 346.02,106.63 347.06,106.77 348.1,106.9" fill="none" stroke="#000" stroke-width="1.1" stroke-linejoin="round" stroke-dasharray="2.6,1.6"/>
<line x1="242.6" y1="104.2" x2="250.1" y2="104.2" stroke="#000" stroke-width="0.9"/>
<line x1="242.6" y1="110.6" x2="250.1" y2="110.6" stroke="#8c8c8c" stroke-width="1.1"/>
<line x1="242.6" y1="117.2" x2="250.1" y2="117.2" stroke="#000" stroke-width="0.9" stroke-dasharray="2,1.4"/>
<line x1="242.6" y1="124.2" x2="250.1" y2="124.2" stroke="#8c8c8c" stroke-width="0.9" stroke-dasharray="2,1.4"/>
<text x="250.6" y="106.3" font-size="7.5" stroke="#000" stroke-width="0.3">WT</text>
<text x="250.6" y="112.9" font-size="7.5" stroke="#000" stroke-width="0.3">PDI null</text>
<text x="250.6" y="119.8" font-size="7.5" stroke="#000" stroke-width="0.3">PDI null + wtPDI</text>
<text x="250.6" y="126.8" font-size="7.5" stroke="#000" stroke-width="0.3">PDI null + dmPDI</text>
<line x1="405.3" y1="48.1" x2="505.3" y2="48.1" stroke="#d0d0d0" stroke-width="0.8"/>
<line x1="405.3" y1="48.1" x2="405.3" y2="128.6" stroke="#d0d0d0" stroke-width="0.8"/>
<text x="405.3" y="41.2" font-size="8" text-anchor="middle" stroke="#000" stroke-width="0.3">0</text>
<text x="430.3" y="41.2" font-size="8" text-anchor="middle" stroke="#000" stroke-width="0.3">100</text>
<text x="455.3" y="41.2" font-size="8" text-anchor="middle" stroke="#000" stroke-width="0.3">200</text>
<text x="480.3" y="41.2" font-size="8" text-anchor="middle" stroke="#000" stroke-width="0.3">300</text>
<text x="505.3" y="41.2" font-size="8" text-anchor="middle" stroke="#000" stroke-width="0.3">400</text>
<line x1="405.3" y1="48.1" x2="405.3" y2="49.6" stroke="#d0d0d0" stroke-width="0.6"/>
<line x1="417.8" y1="48.1" x2="417.8" y2="49.6" stroke="#d0d0d0" stroke-width="0.6"/>
<line x1="430.3" y1="48.1" x2="430.3" y2="49.6" stroke="#d0d0d0" stroke-width="0.6"/>
<line x1="442.8" y1="48.1" x2="442.8" y2="49.6" stroke="#d0d0d0" stroke-width="0.6"/>
<line x1="455.3" y1="48.1" x2="455.3" y2="49.6" stroke="#d0d0d0" stroke-width="0.6"/>
<line x1="467.8" y1="48.1" x2="467.8" y2="49.6" stroke="#d0d0d0" stroke-width="0.6"/>
<line x1="480.3" y1="48.1" x2="480.3" y2="49.6" stroke="#d0d0d0" stroke-width="0.6"/>
<line x1="492.8" y1="48.1" x2="492.8" y2="49.6" stroke="#d0d0d0" stroke-width="0.6"/>
<line x1="505.3" y1="48.1" x2="505.3" y2="49.6" stroke="#d0d0d0" stroke-width="0.6"/>
<text x="398.2" y="51.1" font-size="8.3" text-anchor="end" stroke="#000" stroke-width="0.3">0</text>
<line x1="405.3" y1="48.1" x2="406.8" y2="48.1" stroke="#d0d0d0" stroke-width="0.6"/>
<text x="398.2" y="67.2" font-size="8.3" text-anchor="end" stroke="#000" stroke-width="0.3">20</text>
<line x1="405.3" y1="64.2" x2="406.8" y2="64.2" stroke="#d0d0d0" stroke-width="0.6"/>
<text x="398.2" y="83.3" font-size="8.3" text-anchor="end" stroke="#000" stroke-width="0.3">40</text>
<line x1="405.3" y1="80.3" x2="406.8" y2="80.3" stroke="#d0d0d0" stroke-width="0.6"/>
<text x="398.2" y="99.4" font-size="8.3" text-anchor="end" stroke="#000" stroke-width="0.3">60</text>
<line x1="405.3" y1="96.4" x2="406.8" y2="96.4" stroke="#d0d0d0" stroke-width="0.6"/>
<text x="398.2" y="115.5" font-size="8.3" text-anchor="end" stroke="#000" stroke-width="0.3">80</text>
<line x1="405.3" y1="112.5" x2="406.8" y2="112.5" stroke="#d0d0d0" stroke-width="0.6"/>
<text x="398.2" y="131.6" font-size="8.3" text-anchor="end" stroke="#000" stroke-width="0.3">100</text>
<line x1="405.3" y1="128.6" x2="406.8" y2="128.6" stroke="#d0d0d0" stroke-width="0.6"/>
<text x="458" y="30.8" font-size="8.4" text-anchor="middle" stroke="#000" stroke-width="0.3">Time (sec)</text>
<text x="383.9" y="86" font-size="8.3" text-anchor="middle" transform="rotate(-90 383.9 86)" stroke="#000" stroke-width="0.3">Light transmission</text>
<polyline points="405.3,59.2 419,59.5" fill="none" stroke="#000" stroke-width="1.3" stroke-linejoin="round"/>
<polyline points="415.1,59.2 415.4,50.5 415.7,59.2" fill="none" stroke="#444" stroke-width="0.6" stroke-linejoin="round"/>
<polyline points="417.5,59.2 417.8,49.2 418.1,59.3" fill="none" stroke="#222" stroke-width="0.7" stroke-linejoin="round"/>
<polyline points="419,59.7 420.09,59.99 421.17,60.3 422.26,60.64 423.35,60.99 424.44,61.37 425.52,61.77 426.61,62.18 427.7,62.61 428.79,63.05 429.87,63.51 430.96,63.98 432.05,64.49 433.14,65.04 434.22,65.63 435.31,66.25 436.4,66.9 437.48,67.56 438.57,68.23 439.66,68.89 440.75,69.54 441.83,70.16 442.92,70.76 444.01,71.33 445.1,71.91 446.18,72.48 447.27,73.04 448.36,73.6 449.45,74.15 450.53,74.69 451.62,75.22 452.71,75.73 453.79,76.23 454.88,76.71 455.97,77.17 457.06,77.62 458.14,78.07 459.23,78.5 460.32,78.92 461.41,79.34 462.49,79.74 463.58,80.13 464.67,80.51 465.76,80.87 466.84,81.22 467.93,81.56 469.02,81.89 470.11,82.22 471.19,82.53 472.28,82.84 473.37,83.14 474.45,83.43 475.54,83.71 476.63,83.97 477.72,84.21 478.8,84.44 479.89,84.65 480.98,84.85 482.07,85.03 483.15,85.2 484.24,85.37 485.33,85.52 486.42,85.68 487.5,85.84 488.59,85.99 489.68,86.16 490.76,86.33 491.85,86.51 492.94,86.69 494.03,86.87 495.11,87.06 496.2,87.25 497.29,87.43 498.38,87.62 499.46,87.82 500.55,88.01 501.64,88.2 502.73,88.4 503.81,88.6 504.9,88.8" fill="none" stroke="#808080" stroke-width="1.15" stroke-linejoin="round"/>
<polyline points="419,59.7 420.09,60.22 421.17,60.78 422.26,61.36 423.35,61.96 424.44,62.6 425.52,63.26 426.61,63.94 427.7,64.64 428.79,65.37 429.87,66.11 430.96,66.87 432.05,67.68 433.14,68.55 434.22,69.48 435.31,70.45 436.4,71.45 437.48,72.46 438.57,73.47 439.66,74.47 440.75,75.44 441.83,76.36 442.92,77.24 444.01,78.07 445.1,78.9 446.18,79.71 447.27,80.51 448.36,81.3 449.45,82.06 450.53,82.81 451.62,83.54 452.71,84.24 453.79,84.92 454.88,85.57 455.97,86.2 457.06,86.8 458.14,87.39 459.23,87.96 460.32,88.52 461.41,89.06 462.49,89.58 463.58,90.1 464.67,90.6 465.76,91.1 466.84,91.59 467.93,92.07 469.02,92.55 470.11,93.03 471.19,93.5 472.28,93.96 473.37,94.41 474.45,94.84 475.54,95.26 476.63,95.67 477.72,96.05 478.8,96.41 479.89,96.74 480.98,97.06 482.07,97.37 483.15,97.66 484.24,97.94 485.33,98.22 486.42,98.48 487.5,98.74 488.59,98.99 489.68,99.25 490.76,99.5 491.85,99.75 492.94,100 494.03,100.25 495.11,100.49 496.2,100.73 497.29,100.96 498.38,101.19 499.46,101.42 500.55,101.65 501.64,101.87 502.73,102.08 503.81,102.29 504.9,102.5" fill="none" stroke="#000" stroke-width="1.15" stroke-linejoin="round"/>
<line x1="408.2" y1="112" x2="412.8" y2="112" stroke="#000" stroke-width="1"/>
<text x="414.2" y="115.2" font-size="8" stroke="#000" stroke-width="0.3">WT</text>
<line x1="408.2" y1="120.8" x2="412.8" y2="120.8" stroke="#8c8c8c" stroke-width="1"/>
<text x="414.2" y="123.7" font-size="8" stroke="#000" stroke-width="0.3">PDI null</text>
<line x1="63.4" y1="215.8" x2="166.29" y2="215.8" stroke="#d0d0d0" stroke-width="0.8"/>
<line x1="63.4" y1="215.8" x2="63.4" y2="143.2" stroke="#d0d0d0" stroke-width="0.8"/>
<text x="63.4" y="228.8" font-size="8.3" text-anchor="middle" stroke="#000" stroke-width="0.3">0</text>
<line x1="63.4" y1="215.8" x2="63.4" y2="217.3" stroke="#d0d0d0" stroke-width="0.6"/>
<text x="80.55" y="228.8" font-size="8.3" text-anchor="middle" stroke="#000" stroke-width="0.3">60</text>
<line x1="80.55" y1="215.8" x2="80.55" y2="217.3" stroke="#d0d0d0" stroke-width="0.6"/>
<text x="97.7" y="228.8" font-size="8.3" text-anchor="middle" stroke="#000" stroke-width="0.3">120</text>
<line x1="97.7" y1="215.8" x2="97.7" y2="217.3" stroke="#d0d0d0" stroke-width="0.6"/>
<text x="114.84" y="228.8" font-size="8.3" text-anchor="middle" stroke="#000" stroke-width="0.3">180</text>
<line x1="114.84" y1="215.8" x2="114.84" y2="217.3" stroke="#d0d0d0" stroke-width="0.6"/>
<text x="131.99" y="228.8" font-size="8.3" text-anchor="middle" stroke="#000" stroke-width="0.3">240</text>
<line x1="131.99" y1="215.8" x2="131.99" y2="217.3" stroke="#d0d0d0" stroke-width="0.6"/>
<text x="149.14" y="228.8" font-size="8.3" text-anchor="middle" stroke="#000" stroke-width="0.3">300</text>
<line x1="149.14" y1="215.8" x2="149.14" y2="217.3" stroke="#d0d0d0" stroke-width="0.6"/>
<text x="166.29" y="228.8" font-size="8.3" text-anchor="middle" stroke="#000" stroke-width="0.3">360</text>
<line x1="166.29" y1="215.8" x2="166.29" y2="217.3" stroke="#d0d0d0" stroke-width="0.6"/>
<text x="55.8" y="218.79" font-size="8.3" text-anchor="end" stroke="#000" stroke-width="0.3">0</text>
<line x1="61.9" y1="215.8" x2="63.4" y2="215.8" stroke="#d0d0d0" stroke-width="0.6"/>
<text x="55.8" y="204.27" font-size="8.3" text-anchor="end" stroke="#000" stroke-width="0.3">20</text>
<line x1="61.9" y1="201.28" x2="63.4" y2="201.28" stroke="#d0d0d0" stroke-width="0.6"/>
<text x="55.8" y="189.75" font-size="8.3" text-anchor="end" stroke="#000" stroke-width="0.3">40</text>
<line x1="61.9" y1="186.76" x2="63.4" y2="186.76" stroke="#d0d0d0" stroke-width="0.6"/>
<text x="55.8" y="175.23" font-size="8.3" text-anchor="end" stroke="#000" stroke-width="0.3">60</text>
<line x1="61.9" y1="172.24" x2="63.4" y2="172.24" stroke="#d0d0d0" stroke-width="0.6"/>
<text x="55.8" y="160.71" font-size="8.3" text-anchor="end" stroke="#000" stroke-width="0.3">80</text>
<line x1="61.9" y1="157.72" x2="63.4" y2="157.72" stroke="#d0d0d0" stroke-width="0.6"/>
<text x="55.8" y="146.19" font-size="8.3" text-anchor="end" stroke="#000" stroke-width="0.3">100</text>
<line x1="61.9" y1="143.2" x2="63.4" y2="143.2" stroke="#d0d0d0" stroke-width="0.6"/>
<text x="122.5" y="239.4" font-size="8.5" text-anchor="middle" stroke="#000" stroke-width="0.3">Time (sec)</text>
<text x="38" y="179.5" font-size="8.5" text-anchor="middle" transform="rotate(-90 38 179.5)" stroke="#000" stroke-width="0.3">Aggregation &#160;(%)</text>
<line x1="80.55" y1="208.76" x2="80.55" y2="213.11" stroke="#999" stroke-width="0.7"/>
<line x1="97.7" y1="194.96" x2="97.7" y2="202.22" stroke="#999" stroke-width="0.7"/>
<line x1="114.84" y1="186.32" x2="114.84" y2="193.58" stroke="#999" stroke-width="0.7"/>
<line x1="131.99" y1="181.32" x2="131.99" y2="187.12" stroke="#999" stroke-width="0.7"/>
<line x1="149.14" y1="181.24" x2="149.14" y2="185.6" stroke="#999" stroke-width="0.7"/>
<line x1="166.29" y1="181.32" x2="166.29" y2="188.58" stroke="#999" stroke-width="0.7"/>
<polyline points="63.4,215.8 65.14,215.63 66.89,215.36 68.63,215 70.38,214.56 72.12,214.05 73.86,213.49 75.61,212.87 77.35,212.21 79.09,211.52 80.84,210.81 82.58,209.94 84.33,208.85 86.07,207.6 87.81,206.24 89.56,204.8 91.3,203.34 93.05,201.91 94.79,200.56 96.53,199.33 98.28,198.25 100.02,197.24 101.77,196.26 103.51,195.31 105.25,194.39 107,193.5 108.74,192.65 110.48,191.83 112.23,191.05 113.97,190.31 115.72,189.6 117.46,188.87 119.2,188.12 120.95,187.39 122.69,186.68 124.44,186.02 126.18,185.43 127.92,184.93 129.67,184.54 131.41,184.28 133.15,184.13 134.9,183.99 136.64,183.87 138.39,183.76 140.13,183.67 141.87,183.58 143.62,183.52 145.36,183.47 147.11,183.43 148.85,183.42 150.59,183.43 152.34,183.48 154.08,183.57 155.82,183.69 157.57,183.83 159.31,184.01 161.06,184.21 162.8,184.43 164.54,184.68 166.29,184.95" fill="none" stroke="#7a7a7a" stroke-width="1" stroke-linejoin="round"/>
<line x1="79.05" y1="210.94" x2="82.05" y2="210.94" stroke="#666" stroke-width="1"/>
<line x1="96.2" y1="198.59" x2="99.2" y2="198.59" stroke="#666" stroke-width="1"/>
<line x1="113.34" y1="189.95" x2="116.34" y2="189.95" stroke="#666" stroke-width="1"/>
<line x1="130.49" y1="184.22" x2="133.49" y2="184.22" stroke="#666" stroke-width="1"/>
<line x1="147.64" y1="183.42" x2="150.64" y2="183.42" stroke="#666" stroke-width="1"/>
<line x1="164.79" y1="184.95" x2="167.79" y2="184.95" stroke="#666" stroke-width="1"/>
<line x1="80.55" y1="209.27" x2="80.55" y2="213.62" stroke="#999" stroke-width="0.7"/>
<line x1="97.7" y1="201.43" x2="97.7" y2="207.23" stroke="#999" stroke-width="0.7"/>
<line x1="114.84" y1="193.51" x2="114.84" y2="200.77" stroke="#999" stroke-width="0.7"/>
<line x1="131.99" y1="187.05" x2="131.99" y2="192.86" stroke="#999" stroke-width="0.7"/>
<line x1="149.14" y1="182.91" x2="149.14" y2="187.27" stroke="#999" stroke-width="0.7"/>
<line x1="166.29" y1="182.04" x2="166.29" y2="187.85" stroke="#999" stroke-width="0.7"/>
<polyline points="63.4,215.8 65.14,215.48 66.89,215.13 68.63,214.74 70.38,214.33 72.12,213.89 73.86,213.42 75.61,212.93 77.35,212.42 79.09,211.9 80.84,211.35 82.58,210.76 84.33,210.11 86.07,209.41 87.81,208.67 89.56,207.91 91.3,207.14 93.05,206.36 94.79,205.58 96.53,204.82 98.28,204.09 100.02,203.36 101.77,202.63 103.51,201.9 105.25,201.17 107,200.44 108.74,199.7 110.48,198.97 112.23,198.24 113.97,197.51 115.72,196.77 117.46,196.02 119.2,195.25 120.95,194.47 122.69,193.7 124.44,192.93 126.18,192.19 127.92,191.47 129.67,190.79 131.41,190.15 133.15,189.55 134.9,188.91 136.64,188.25 138.39,187.6 140.13,186.98 141.87,186.41 143.62,185.91 145.36,185.51 147.11,185.23 148.85,185.1 150.59,185.07 152.34,185.04 154.08,185.02 155.82,185 157.57,184.98 159.31,184.97 161.06,184.96 162.8,184.95 164.54,184.95 166.29,184.94" fill="none" stroke="#7a7a7a" stroke-width="1" stroke-linejoin="round" stroke-dasharray="2.6,1.8"/>
<rect x="79.35" y="210.24" width="2.4" height="2.4" fill="#666"/>
<rect x="96.5" y="203.13" width="2.4" height="2.4" fill="#666"/>
<rect x="113.64" y="195.94" width="2.4" height="2.4" fill="#666"/>
<rect x="130.79" y="188.75" width="2.4" height="2.4" fill="#666"/>
<rect x="147.94" y="183.89" width="2.4" height="2.4" fill="#666"/>
<rect x="165.09" y="183.75" width="2.4" height="2.4" fill="#666"/>
<line x1="80.55" y1="208.54" x2="80.55" y2="212.9" stroke="#999" stroke-width="0.7"/>
<line x1="97.7" y1="180.59" x2="97.7" y2="186.4" stroke="#999" stroke-width="0.7"/>
<line x1="114.84" y1="167.88" x2="114.84" y2="173.69" stroke="#999" stroke-width="0.7"/>
<line x1="131.99" y1="164.98" x2="131.99" y2="170.79" stroke="#999" stroke-width="0.7"/>
<line x1="149.14" y1="164.83" x2="149.14" y2="170.64" stroke="#999" stroke-width="0.7"/>
<line x1="166.29" y1="164.69" x2="166.29" y2="170.5" stroke="#999" stroke-width="0.7"/>
<polyline points="63.4,215.8 65.14,215.73 66.89,215.54 68.63,215.22 70.38,214.8 72.12,214.28 73.86,213.68 75.61,212.99 77.35,212.24 79.09,211.43 80.84,210.56 82.58,209.08 84.33,206.84 86.07,204.02 87.81,200.78 89.56,197.32 91.3,193.82 93.05,190.45 94.79,187.4 96.53,184.84 98.28,182.91 100.02,181.18 101.77,179.5 103.51,177.9 105.25,176.39 107,175 108.74,173.76 110.48,172.67 112.23,171.76 113.97,171.06 115.72,170.55 117.46,170.09 119.2,169.67 120.95,169.27 122.69,168.92 124.44,168.6 126.18,168.34 127.92,168.13 129.67,167.98 131.41,167.9 133.15,167.87 134.9,167.84 136.64,167.83 138.39,167.81 140.13,167.8 141.87,167.79 143.62,167.78 145.36,167.77 147.11,167.75 148.85,167.74 150.59,167.73 152.34,167.71 154.08,167.7 155.82,167.68 157.57,167.67 159.31,167.65 161.06,167.64 162.8,167.62 164.54,167.61 166.29,167.59" fill="none" stroke="#000" stroke-width="1.1" stroke-linejoin="round" stroke-dasharray="2.8,1.8"/>
<rect x="79.35" y="209.52" width="2.4" height="2.4" fill="#000"/>
<rect x="96.5" y="182.29" width="2.4" height="2.4" fill="#000"/>
<rect x="113.64" y="169.59" width="2.4" height="2.4" fill="#000"/>
<rect x="130.79" y="166.68" width="2.4" height="2.4" fill="#000"/>
<rect x="147.94" y="166.54" width="2.4" height="2.4" fill="#000"/>
<rect x="165.09" y="166.39" width="2.4" height="2.4" fill="#000"/>
<line x1="80.55" y1="207.16" x2="80.55" y2="212.97" stroke="#999" stroke-width="0.7"/>
<line x1="97.7" y1="178.77" x2="97.7" y2="186.03" stroke="#999" stroke-width="0.7"/>
<line x1="114.84" y1="163.67" x2="114.84" y2="169.48" stroke="#999" stroke-width="0.7"/>
<line x1="131.99" y1="157.94" x2="131.99" y2="165.2" stroke="#999" stroke-width="0.7"/>
<line x1="149.14" y1="157.14" x2="149.14" y2="164.4" stroke="#999" stroke-width="0.7"/>
<line x1="166.29" y1="156.85" x2="166.29" y2="162.66" stroke="#999" stroke-width="0.7"/>
<polyline points="63.4,215.8 65.14,215.72 66.89,215.5 68.63,215.14 70.38,214.66 72.12,214.07 73.86,213.38 75.61,212.61 77.35,211.76 79.09,210.86 80.84,209.89 82.58,208.36 84.33,206.12 86.07,203.32 87.81,200.12 89.56,196.69 91.3,193.2 93.05,189.79 94.79,186.65 96.53,183.91 98.28,181.72 100.02,179.69 101.77,177.7 103.51,175.78 105.25,173.94 107,172.22 108.74,170.65 110.48,169.23 112.23,168.01 113.97,166.99 115.72,166.19 117.46,165.46 119.2,164.76 120.95,164.11 122.69,163.52 124.44,162.99 126.18,162.53 127.92,162.14 129.67,161.84 131.41,161.62 133.15,161.48 134.9,161.37 136.64,161.27 138.39,161.19 140.13,161.12 141.87,161.06 143.62,161 145.36,160.94 147.11,160.87 148.85,160.78 150.59,160.69 152.34,160.6 154.08,160.5 155.82,160.4 157.57,160.3 159.31,160.19 161.06,160.09 162.8,159.98 164.54,159.87 166.29,159.75" fill="none" stroke="#000" stroke-width="1.15" stroke-linejoin="round"/>
<circle cx="63.4" cy="215.8" r="1.7" fill="#000"/>
<circle cx="80.55" cy="210.06" r="1.7" fill="#000"/>
<circle cx="97.7" cy="182.4" r="1.7" fill="#000"/>
<circle cx="114.84" cy="166.58" r="1.7" fill="#000"/>
<circle cx="131.99" cy="161.57" r="1.7" fill="#000"/>
<circle cx="149.14" cy="160.77" r="1.7" fill="#000"/>
<circle cx="166.29" cy="159.75" r="1.7" fill="#000"/>
<line x1="240.6" y1="217.2" x2="346.98" y2="217.2" stroke="#d0d0d0" stroke-width="0.8"/>
<line x1="240.6" y1="217.2" x2="240.6" y2="142.8" stroke="#d0d0d0" stroke-width="0.8"/>
<text x="240.6" y="230.7" font-size="8.3" text-anchor="middle" stroke="#000" stroke-width="0.3">0</text>
<line x1="240.6" y1="217.2" x2="240.6" y2="218.7" stroke="#d0d0d0" stroke-width="0.6"/>
<text x="258.33" y="230.7" font-size="8.3" text-anchor="middle" stroke="#000" stroke-width="0.3">60</text>
<line x1="258.33" y1="217.2" x2="258.33" y2="218.7" stroke="#d0d0d0" stroke-width="0.6"/>
<text x="276.06" y="230.7" font-size="8.3" text-anchor="middle" stroke="#000" stroke-width="0.3">120</text>
<line x1="276.06" y1="217.2" x2="276.06" y2="218.7" stroke="#d0d0d0" stroke-width="0.6"/>
<text x="293.79" y="230.7" font-size="8.3" text-anchor="middle" stroke="#000" stroke-width="0.3">180</text>
<line x1="293.79" y1="217.2" x2="293.79" y2="218.7" stroke="#d0d0d0" stroke-width="0.6"/>
<text x="311.52" y="230.7" font-size="8.3" text-anchor="middle" stroke="#000" stroke-width="0.3">240</text>
<line x1="311.52" y1="217.2" x2="311.52" y2="218.7" stroke="#d0d0d0" stroke-width="0.6"/>
<text x="329.25" y="230.7" font-size="8.3" text-anchor="middle" stroke="#000" stroke-width="0.3">300</text>
<line x1="329.25" y1="217.2" x2="329.25" y2="218.7" stroke="#d0d0d0" stroke-width="0.6"/>
<text x="346.98" y="230.7" font-size="8.3" text-anchor="middle" stroke="#000" stroke-width="0.3">360</text>
<line x1="346.98" y1="217.2" x2="346.98" y2="218.7" stroke="#d0d0d0" stroke-width="0.6"/>
<text x="233.8" y="220.19" font-size="8.3" text-anchor="end" stroke="#000" stroke-width="0.3">0</text>
<line x1="239.1" y1="217.2" x2="240.6" y2="217.2" stroke="#d0d0d0" stroke-width="0.6"/>
<text x="233.8" y="205.31" font-size="8.3" text-anchor="end" stroke="#000" stroke-width="0.3">20</text>
<line x1="239.1" y1="202.32" x2="240.6" y2="202.32" stroke="#d0d0d0" stroke-width="0.6"/>
<text x="233.8" y="190.43" font-size="8.3" text-anchor="end" stroke="#000" stroke-width="0.3">40</text>
<line x1="239.1" y1="187.44" x2="240.6" y2="187.44" stroke="#d0d0d0" stroke-width="0.6"/>
<text x="233.8" y="175.55" font-size="8.3" text-anchor="end" stroke="#000" stroke-width="0.3">60</text>
<line x1="239.1" y1="172.56" x2="240.6" y2="172.56" stroke="#d0d0d0" stroke-width="0.6"/>
<text x="233.8" y="160.67" font-size="8.3" text-anchor="end" stroke="#000" stroke-width="0.3">80</text>
<line x1="239.1" y1="157.68" x2="240.6" y2="157.68" stroke="#d0d0d0" stroke-width="0.6"/>
<text x="233.8" y="145.79" font-size="8.3" text-anchor="end" stroke="#000" stroke-width="0.3">100</text>
<line x1="239.1" y1="142.8" x2="240.6" y2="142.8" stroke="#d0d0d0" stroke-width="0.6"/>
<text x="298" y="241" font-size="8.5" text-anchor="middle" stroke="#000" stroke-width="0.3">Time (sec)</text>
<text x="215" y="180.2" font-size="8.5" text-anchor="middle" transform="rotate(-90 215 180.2)" stroke="#000" stroke-width="0.3">Aggregation (%)</text>
<line x1="258.33" y1="213.48" x2="258.33" y2="216.46" stroke="#999" stroke-width="0.7"/>
<line x1="276.06" y1="204.55" x2="276.06" y2="209.02" stroke="#999" stroke-width="0.7"/>
<line x1="293.79" y1="193.39" x2="293.79" y2="199.34" stroke="#999" stroke-width="0.7"/>
<line x1="311.52" y1="188.93" x2="311.52" y2="194.88" stroke="#999" stroke-width="0.7"/>
<line x1="329.25" y1="187.44" x2="329.25" y2="193.39" stroke="#999" stroke-width="0.7"/>
<line x1="346.98" y1="184.46" x2="346.98" y2="191.9" stroke="#999" stroke-width="0.7"/>
<polyline points="240.6,217.2 242.4,217.17 244.21,217.08 246.01,216.93 247.81,216.74 249.62,216.5 251.42,216.23 253.22,215.93 255.02,215.6 256.83,215.26 258.63,214.91 260.43,214.44 262.24,213.83 264.04,213.09 265.84,212.26 267.65,211.35 269.45,210.39 271.25,209.4 273.05,208.4 274.86,207.42 276.66,206.47 278.46,205.43 280.27,204.31 282.07,203.12 283.87,201.91 285.68,200.72 287.48,199.56 289.28,198.49 291.09,197.53 292.89,196.71 294.69,196.05 296.49,195.45 298.3,194.87 300.1,194.33 301.9,193.83 303.71,193.37 305.51,192.95 307.31,192.58 309.12,192.25 310.92,191.98 312.72,191.76 314.53,191.57 316.33,191.41 318.13,191.27 319.93,191.14 321.74,191.01 323.54,190.89 325.34,190.76 327.15,190.61 328.95,190.45 330.75,190.26 332.56,190.07 334.36,189.86 336.16,189.65 337.96,189.42 339.77,189.19 341.57,188.95 343.37,188.7 345.18,188.45 346.98,188.18" fill="none" stroke="#7a7a7a" stroke-width="1" stroke-linejoin="round"/>
<line x1="256.83" y1="214.97" x2="259.83" y2="214.97" stroke="#666" stroke-width="1"/>
<line x1="274.56" y1="206.78" x2="277.56" y2="206.78" stroke="#666" stroke-width="1"/>
<line x1="292.29" y1="196.37" x2="295.29" y2="196.37" stroke="#666" stroke-width="1"/>
<line x1="310.02" y1="191.9" x2="313.02" y2="191.9" stroke="#666" stroke-width="1"/>
<line x1="327.75" y1="190.42" x2="330.75" y2="190.42" stroke="#666" stroke-width="1"/>
<line x1="345.48" y1="188.18" x2="348.48" y2="188.18" stroke="#666" stroke-width="1"/>
<line x1="258.33" y1="213.48" x2="258.33" y2="216.46" stroke="#999" stroke-width="0.7"/>
<line x1="276.06" y1="203.81" x2="276.06" y2="208.27" stroke="#999" stroke-width="0.7"/>
<line x1="293.79" y1="191.9" x2="293.79" y2="197.86" stroke="#999" stroke-width="0.7"/>
<line x1="311.52" y1="186.7" x2="311.52" y2="192.65" stroke="#999" stroke-width="0.7"/>
<line x1="329.25" y1="183.72" x2="329.25" y2="189.67" stroke="#999" stroke-width="0.7"/>
<line x1="346.98" y1="180.74" x2="346.98" y2="188.18" stroke="#999" stroke-width="0.7"/>
<polyline points="240.6,217.2 242.4,217.17 244.21,217.08 246.01,216.93 247.81,216.74 249.62,216.51 251.42,216.24 253.22,215.94 255.02,215.61 256.83,215.27 258.63,214.9 260.43,214.41 262.24,213.76 264.04,212.96 265.84,212.04 267.65,211.04 269.45,209.98 271.25,208.89 273.05,207.8 274.86,206.73 276.66,205.7 278.46,204.59 280.27,203.39 282.07,202.13 283.87,200.85 285.68,199.58 287.48,198.35 289.28,197.2 291.09,196.16 292.89,195.26 294.69,194.52 296.49,193.85 298.3,193.22 300.1,192.63 301.9,192.08 303.71,191.57 305.51,191.08 307.31,190.63 309.12,190.2 310.92,189.8 312.72,189.42 314.53,189.06 316.33,188.73 318.13,188.41 319.93,188.1 321.74,187.81 323.54,187.53 325.34,187.26 327.15,187 328.95,186.74 330.75,186.48 332.56,186.23 334.36,185.98 336.16,185.75 337.96,185.51 339.77,185.29 341.57,185.07 343.37,184.86 345.18,184.66 346.98,184.46" fill="none" stroke="#7a7a7a" stroke-width="1" stroke-linejoin="round" stroke-dasharray="2.6,1.8"/>
<rect x="257.13" y="213.77" width="2.4" height="2.4" fill="#666"/>
<rect x="274.86" y="204.84" width="2.4" height="2.4" fill="#666"/>
<rect x="292.59" y="193.68" width="2.4" height="2.4" fill="#666"/>
<rect x="310.32" y="188.47" width="2.4" height="2.4" fill="#666"/>
<rect x="328.05" y="185.5" width="2.4" height="2.4" fill="#666"/>
<rect x="345.78" y="183.26" width="2.4" height="2.4" fill="#666"/>
<line x1="258.33" y1="212.74" x2="258.33" y2="217.2" stroke="#999" stroke-width="0.7"/>
<line x1="276.06" y1="197.86" x2="276.06" y2="203.81" stroke="#999" stroke-width="0.7"/>
<line x1="293.79" y1="180.74" x2="293.79" y2="186.7" stroke="#999" stroke-width="0.7"/>
<line x1="311.52" y1="165.12" x2="311.52" y2="172.56" stroke="#999" stroke-width="0.7"/>
<line x1="329.25" y1="159.17" x2="329.25" y2="168.1" stroke="#999" stroke-width="0.7"/>
<line x1="346.98" y1="156.94" x2="346.98" y2="164.38" stroke="#999" stroke-width="0.7"/>
<polyline points="240.6,217.2 242.4,217.17 244.21,217.09 246.01,216.95 247.81,216.77 249.62,216.55 251.42,216.28 253.22,215.98 255.02,215.65 256.83,215.29 258.63,214.9 260.43,214.26 262.24,213.28 264.04,212.03 265.84,210.56 267.65,208.93 269.45,207.2 271.25,205.41 273.05,203.63 274.86,201.91 276.66,200.3 278.46,198.66 280.27,196.95 282.07,195.18 283.87,193.39 285.68,191.58 287.48,189.77 289.28,187.98 291.09,186.23 292.89,184.54 294.69,182.9 296.49,181.2 298.3,179.44 300.1,177.69 301.9,175.96 303.71,174.3 305.51,172.74 307.31,171.34 309.12,170.12 310.92,169.12 312.72,168.33 314.53,167.63 316.33,166.99 318.13,166.41 319.93,165.87 321.74,165.38 323.54,164.92 325.34,164.49 327.15,164.09 328.95,163.7 330.75,163.31 332.56,162.95 334.36,162.59 336.16,162.25 337.96,161.93 339.77,161.63 341.57,161.35 343.37,161.09 345.18,160.86 346.98,160.66" fill="none" stroke="#000" stroke-width="1.1" stroke-linejoin="round" stroke-dasharray="2.8,1.8"/>
<polygon points="258.33,213.07 256.53,216.37 260.13,216.37" fill="#000"/>
<polygon points="276.06,198.93 274.26,202.23 277.86,202.23" fill="#000"/>
<polygon points="293.79,181.82 291.99,185.12 295.59,185.12" fill="#000"/>
<polygon points="311.52,166.94 309.72,170.24 313.32,170.24" fill="#000"/>
<polygon points="329.25,161.73 327.45,165.03 331.05,165.03" fill="#000"/>
<polygon points="346.98,158.76 345.18,162.06 348.78,162.06" fill="#000"/>
<line x1="258.33" y1="211.99" x2="258.33" y2="216.46" stroke="#999" stroke-width="0.7"/>
<line x1="276.06" y1="197.11" x2="276.06" y2="203.06" stroke="#999" stroke-width="0.7"/>
<line x1="293.79" y1="176.28" x2="293.79" y2="180.74" stroke="#999" stroke-width="0.7"/>
<line x1="311.52" y1="164.38" x2="311.52" y2="171.82" stroke="#999" stroke-width="0.7"/>
<line x1="329.25" y1="160.66" x2="329.25" y2="169.58" stroke="#999" stroke-width="0.7"/>
<line x1="346.98" y1="159.17" x2="346.98" y2="168.1" stroke="#999" stroke-width="0.7"/>
<polyline points="240.6,217.2 242.4,217.16 244.21,217.04 246.01,216.86 247.81,216.61 249.62,216.3 251.42,215.94 253.22,215.54 255.02,215.1 256.83,214.63 258.63,214.14 260.43,213.43 262.24,212.46 264.04,211.24 265.84,209.84 267.65,208.27 269.45,206.59 271.25,204.84 273.05,203.05 274.86,201.26 276.66,199.49 278.46,197.5 280.27,195.27 282.07,192.87 283.87,190.38 285.68,187.88 287.48,185.45 289.28,183.15 291.09,181.07 292.89,179.28 294.69,177.8 296.49,176.41 298.3,175.07 300.1,173.8 301.9,172.6 303.71,171.49 305.51,170.49 307.31,169.61 309.12,168.86 310.92,168.26 312.72,167.79 314.53,167.37 316.33,167 318.13,166.66 319.93,166.35 321.74,166.07 323.54,165.82 325.34,165.58 327.15,165.36 328.95,165.15 330.75,164.95 332.56,164.76 334.36,164.57 336.16,164.4 337.96,164.23 339.77,164.08 341.57,163.94 343.37,163.82 345.18,163.72 346.98,163.63" fill="none" stroke="#000" stroke-width="1.15" stroke-linejoin="round"/>
<circle cx="240.6" cy="217.2" r="1.7" fill="#000"/>
<circle cx="258.33" cy="214.22" r="1.7" fill="#000"/>
<circle cx="276.06" cy="200.09" r="1.7" fill="#000"/>
<circle cx="293.79" cy="178.51" r="1.7" fill="#000"/>
<circle cx="311.52" cy="168.1" r="1.7" fill="#000"/>
<circle cx="329.25" cy="165.12" r="1.7" fill="#000"/>
<circle cx="346.98" cy="163.63" r="1.7" fill="#000"/>
<line x1="399.5" y1="219.8" x2="512.4" y2="219.8" stroke="#d0d0d0" stroke-width="0.8"/>
<line x1="399.5" y1="219.8" x2="399.5" y2="142.6" stroke="#d0d0d0" stroke-width="0.8"/>
<text x="399.5" y="233.5" font-size="8.3" text-anchor="middle" stroke="#000" stroke-width="0.3">0</text>
<line x1="399.5" y1="219.8" x2="399.5" y2="221.3" stroke="#d0d0d0" stroke-width="0.6"/>
<text x="418.32" y="233.5" font-size="8.3" text-anchor="middle" stroke="#000" stroke-width="0.3">60</text>
<line x1="418.32" y1="219.8" x2="418.32" y2="221.3" stroke="#d0d0d0" stroke-width="0.6"/>
<text x="437.13" y="233.5" font-size="8.3" text-anchor="middle" stroke="#000" stroke-width="0.3">120</text>
<line x1="437.13" y1="219.8" x2="437.13" y2="221.3" stroke="#d0d0d0" stroke-width="0.6"/>
<text x="455.95" y="233.5" font-size="8.3" text-anchor="middle" stroke="#000" stroke-width="0.3">180</text>
<line x1="455.95" y1="219.8" x2="455.95" y2="221.3" stroke="#d0d0d0" stroke-width="0.6"/>
<text x="474.76" y="233.5" font-size="8.3" text-anchor="middle" stroke="#000" stroke-width="0.3">240</text>
<line x1="474.76" y1="219.8" x2="474.76" y2="221.3" stroke="#d0d0d0" stroke-width="0.6"/>
<text x="493.58" y="233.5" font-size="8.3" text-anchor="middle" stroke="#000" stroke-width="0.3">300</text>
<line x1="493.58" y1="219.8" x2="493.58" y2="221.3" stroke="#d0d0d0" stroke-width="0.6"/>
<text x="512.4" y="233.5" font-size="8.3" text-anchor="middle" stroke="#000" stroke-width="0.3">360</text>
<line x1="512.4" y1="219.8" x2="512.4" y2="221.3" stroke="#d0d0d0" stroke-width="0.6"/>
<text x="392.3" y="222.79" font-size="8.3" text-anchor="end" stroke="#000" stroke-width="0.3">0</text>
<line x1="398" y1="219.8" x2="399.5" y2="219.8" stroke="#d0d0d0" stroke-width="0.6"/>
<text x="392.3" y="203.49" font-size="8.3" text-anchor="end" stroke="#000" stroke-width="0.3">20</text>
<line x1="398" y1="200.5" x2="399.5" y2="200.5" stroke="#d0d0d0" stroke-width="0.6"/>
<text x="392.3" y="184.19" font-size="8.3" text-anchor="end" stroke="#000" stroke-width="0.3">40</text>
<line x1="398" y1="181.2" x2="399.5" y2="181.2" stroke="#d0d0d0" stroke-width="0.6"/>
<text x="392.3" y="164.89" font-size="8.3" text-anchor="end" stroke="#000" stroke-width="0.3">60</text>
<line x1="398" y1="161.9" x2="399.5" y2="161.9" stroke="#d0d0d0" stroke-width="0.6"/>
<text x="392.3" y="145.59" font-size="8.3" text-anchor="end" stroke="#000" stroke-width="0.3">80</text>
<line x1="398" y1="142.6" x2="399.5" y2="142.6" stroke="#d0d0d0" stroke-width="0.6"/>
<text x="459.4" y="241" font-size="8.5" text-anchor="middle" stroke="#000" stroke-width="0.3">Time (sec)</text>
<text x="374.6" y="179.3" font-size="8.5" text-anchor="middle" transform="rotate(-90 374.6 179.3)" stroke="#000" stroke-width="0.3">Aggregation (%)</text>
<line x1="418.32" y1="214.97" x2="418.32" y2="218.84" stroke="#999" stroke-width="0.7"/>
<line x1="437.13" y1="209.19" x2="437.13" y2="216.91" stroke="#999" stroke-width="0.7"/>
<line x1="455.95" y1="198.57" x2="455.95" y2="208.22" stroke="#999" stroke-width="0.7"/>
<line x1="474.76" y1="190.85" x2="474.76" y2="200.5" stroke="#999" stroke-width="0.7"/>
<line x1="493.58" y1="186.03" x2="493.58" y2="195.68" stroke="#999" stroke-width="0.7"/>
<line x1="512.4" y1="183.13" x2="512.4" y2="192.78" stroke="#999" stroke-width="0.7"/>
<polyline points="399.5,219.8 401.41,219.55 403.33,219.29 405.24,219.01 407.15,218.73 409.07,218.44 410.98,218.14 412.89,217.83 414.81,217.51 416.72,217.18 418.63,216.85 420.55,216.52 422.46,216.19 424.38,215.86 426.29,215.52 428.2,215.16 430.12,214.77 432.03,214.36 433.94,213.91 435.86,213.41 437.77,212.85 439.68,212.14 441.6,211.28 443.51,210.3 445.42,209.25 447.34,208.14 449.25,207.01 451.16,205.9 453.08,204.83 454.99,203.85 456.9,202.96 458.82,202.09 460.73,201.23 462.65,200.38 464.56,199.54 466.47,198.74 468.39,197.96 470.3,197.22 472.21,196.53 474.13,195.88 476.04,195.28 477.95,194.7 479.87,194.14 481.78,193.61 483.69,193.1 485.61,192.61 487.52,192.15 489.43,191.71 491.35,191.3 493.26,190.91 495.17,190.55 497.09,190.19 499,189.85 500.92,189.53 502.83,189.22 504.74,188.92 506.66,188.65 508.57,188.4 510.48,188.16 512.4,187.96" fill="none" stroke="#7a7a7a" stroke-width="1" stroke-linejoin="round"/>
<line x1="416.82" y1="216.91" x2="419.82" y2="216.91" stroke="#666" stroke-width="1"/>
<line x1="435.63" y1="213.05" x2="438.63" y2="213.05" stroke="#666" stroke-width="1"/>
<line x1="454.45" y1="203.4" x2="457.45" y2="203.4" stroke="#666" stroke-width="1"/>
<line x1="473.26" y1="195.68" x2="476.26" y2="195.68" stroke="#666" stroke-width="1"/>
<line x1="492.08" y1="190.85" x2="495.08" y2="190.85" stroke="#666" stroke-width="1"/>
<line x1="510.9" y1="187.96" x2="513.9" y2="187.96" stroke="#666" stroke-width="1"/>
<line x1="418.32" y1="213.05" x2="418.32" y2="216.91" stroke="#999" stroke-width="0.7"/>
<line x1="437.13" y1="203.4" x2="437.13" y2="211.12" stroke="#999" stroke-width="0.7"/>
<line x1="455.95" y1="188.92" x2="455.95" y2="198.57" stroke="#999" stroke-width="0.7"/>
<line x1="474.76" y1="178.31" x2="474.76" y2="187.95" stroke="#999" stroke-width="0.7"/>
<line x1="493.58" y1="171.55" x2="493.58" y2="181.2" stroke="#999" stroke-width="0.7"/>
<line x1="512.4" y1="167.69" x2="512.4" y2="175.41" stroke="#999" stroke-width="0.7"/>
<polyline points="399.5,219.8 401.41,219.44 403.33,219.04 405.24,218.61 407.15,218.15 409.07,217.67 410.98,217.15 412.89,216.61 414.81,216.05 416.72,215.47 418.63,214.87 420.55,214.25 422.46,213.59 424.38,212.9 426.29,212.17 428.2,211.41 430.12,210.6 432.03,209.75 433.94,208.85 435.86,207.91 437.77,206.91 439.68,205.77 441.6,204.49 443.51,203.1 445.42,201.63 447.34,200.13 449.25,198.61 451.16,197.13 453.08,195.7 454.99,194.37 456.9,193.14 458.82,191.94 460.73,190.75 462.65,189.59 464.56,188.45 466.47,187.34 468.39,186.28 470.3,185.27 472.21,184.31 474.13,183.41 476.04,182.58 477.95,181.78 479.87,181.02 481.78,180.29 483.69,179.59 485.61,178.92 487.52,178.28 489.43,177.66 491.35,177.05 493.26,176.47 495.17,175.9 497.09,175.35 499,174.81 500.92,174.29 502.83,173.78 504.74,173.3 506.66,172.83 508.57,172.38 510.48,171.95 512.4,171.55" fill="none" stroke="#000" stroke-width="1.2" stroke-linejoin="round"/>
<rect x="416.62" y="213.28" width="3.4" height="3.4" fill="#000"/>
<rect x="435.43" y="205.56" width="3.4" height="3.4" fill="#000"/>
<rect x="454.25" y="192.05" width="3.4" height="3.4" fill="#000"/>
<rect x="473.06" y="181.43" width="3.4" height="3.4" fill="#000"/>
<rect x="491.88" y="174.68" width="3.4" height="3.4" fill="#000"/>
<rect x="510.7" y="169.85" width="3.4" height="3.4" fill="#000"/>
<line x1="60.6" y1="319.5" x2="166.2" y2="319.5" stroke="#d0d0d0" stroke-width="0.8"/>
<line x1="60.6" y1="319.5" x2="60.6" y2="252.6" stroke="#d0d0d0" stroke-width="0.8"/>
<text x="60.6" y="331.4" font-size="7.6" text-anchor="middle" stroke="#000" stroke-width="0.3">0</text>
<line x1="60.6" y1="319.5" x2="60.6" y2="321" stroke="#d0d0d0" stroke-width="0.6"/>
<text x="87" y="331.4" font-size="7.6" text-anchor="middle" stroke="#000" stroke-width="0.3">100</text>
<line x1="87" y1="319.5" x2="87" y2="321" stroke="#d0d0d0" stroke-width="0.6"/>
<text x="113.4" y="331.4" font-size="7.6" text-anchor="middle" stroke="#000" stroke-width="0.3">200</text>
<line x1="113.4" y1="319.5" x2="113.4" y2="321" stroke="#d0d0d0" stroke-width="0.6"/>
<text x="139.8" y="331.4" font-size="7.6" text-anchor="middle" stroke="#000" stroke-width="0.3">300</text>
<line x1="139.8" y1="319.5" x2="139.8" y2="321" stroke="#d0d0d0" stroke-width="0.6"/>
<text x="166.2" y="331.4" font-size="7.6" text-anchor="middle" stroke="#000" stroke-width="0.3">400</text>
<line x1="166.2" y1="319.5" x2="166.2" y2="321" stroke="#d0d0d0" stroke-width="0.6"/>
<text x="57.1" y="322.5" font-size="8.3" text-anchor="end" stroke="#000" stroke-width="0.3">0</text>
<line x1="59.1" y1="319.5" x2="60.6" y2="319.5" stroke="#d0d0d0" stroke-width="0.6"/>
<text x="57.1" y="289.05" font-size="8.3" text-anchor="end" stroke="#000" stroke-width="0.3">1</text>
<line x1="59.1" y1="286.05" x2="60.6" y2="286.05" stroke="#d0d0d0" stroke-width="0.6"/>
<text x="57.1" y="255.6" font-size="8.3" text-anchor="end" stroke="#000" stroke-width="0.3">2</text>
<line x1="59.1" y1="252.6" x2="60.6" y2="252.6" stroke="#d0d0d0" stroke-width="0.6"/>
<text x="113.2" y="340.8" font-size="7.6" text-anchor="middle" stroke="#000" stroke-width="0.3">Time (sec)</text>
<text x="47.4" y="284.4" font-size="8.1" text-anchor="middle" transform="rotate(-90 47.4 284.4)" stroke="#000" stroke-width="0.3">ATP secretion <tspan font-size="6.7">(nmol)</tspan></text>
<line x1="60.7" y1="319.2" x2="72.9" y2="319.2" stroke="#000" stroke-width="1"/>
<polyline points="72.85,319.04 73.63,310.78 74.41,307.28 75.2,305.1 75.98,303.36 76.76,301.91 77.55,300.69 78.33,299.67 79.11,298.77 79.89,297.97 80.68,297.24 81.46,296.6 82.24,296.06 83.03,295.64 83.81,295.3 84.59,294.99 85.37,294.7 86.16,294.45 86.94,294.25 87.72,294.1 88.51,294 89.29,293.94 90.07,293.88 90.85,293.83 91.64,293.79 92.42,293.76 93.2,293.74 93.99,293.73 94.77,293.75 95.55,293.77 96.33,293.81 97.12,293.86 97.9,293.93 98.68,294 99.47,294.08 100.25,294.17 101.03,294.27 101.81,294.37 102.6,294.47 103.38,294.57 104.16,294.68 104.95,294.78 105.73,294.89 106.51,294.98 107.29,295.08 108.08,295.17 108.86,295.27 109.64,295.37 110.43,295.48 111.21,295.59 111.99,295.7 112.77,295.81 113.56,295.93 114.34,296.05 115.12,296.16 115.91,296.28 116.69,296.39 117.47,296.51 118.25,296.62 119.04,296.73 119.82,296.84 120.6,296.94 121.39,297.04 122.17,297.14 122.95,297.24 123.73,297.34 124.52,297.44 125.3,297.54 126.08,297.63 126.87,297.73 127.65,297.82 128.43,297.92 129.22,298.01 130,298.1 130.78,298.19 131.56,298.28 132.35,298.37 133.13,298.46 133.91,298.55 134.7,298.63 135.48,298.71 136.26,298.8 137.04,298.88 137.83,298.96 138.61,299.03 139.39,299.11 140.18,299.19 140.96,299.27 141.74,299.34 142.52,299.42 143.31,299.49 144.09,299.57 144.87,299.65 145.66,299.72 146.44,299.8 147.22,299.88 148,299.96 148.79,300.04 149.57,300.12 150.35,300.2 151.14,300.28 151.92,300.36 152.7,300.44 153.48,300.52 154.27,300.6 155.05,300.68 155.83,300.76 156.62,300.84 157.4,300.92 158.18,301 158.96,301.08 159.75,301.16 160.53,301.24 161.31,301.32 162.1,301.4 162.88,301.49 163.66,301.57 164.44,301.65 165.23,301.73 166.01,301.81" fill="none" stroke="#8c8c8c" stroke-width="0.9" stroke-linejoin="round"/>
<polyline points="72.85,319.04 73.63,306.76 74.41,302.02 75.2,299.56 75.98,297.99 76.76,297.06 77.55,296.33 78.33,295.73 79.11,295.27 79.89,294.95 80.68,294.75 81.46,294.59 82.24,294.45 83.03,294.35 83.81,294.29 84.59,294.27 85.37,294.32 86.16,294.44 86.94,294.6 87.72,294.81 88.51,295.04 89.29,295.3 90.07,295.57 90.85,295.84 91.64,296.1 92.42,296.34 93.2,296.55 93.99,296.72 94.77,296.88 95.55,297.02 96.33,297.16 97.12,297.3 97.9,297.43 98.68,297.56 99.47,297.69 100.25,297.81 101.03,297.93 101.81,298.04 102.6,298.16 103.38,298.27 104.16,298.39 104.95,298.5 105.73,298.62 106.51,298.73 107.29,298.85 108.08,298.96 108.86,299.08 109.64,299.2 110.43,299.31 111.21,299.42 111.99,299.54 112.77,299.65 113.56,299.76 114.34,299.87 115.12,299.98 115.91,300.09 116.69,300.19 117.47,300.3 118.25,300.4 119.04,300.51 119.82,300.61 120.6,300.71 121.39,300.81 122.17,300.91 122.95,301.01 123.73,301.11 124.52,301.21 125.3,301.31 126.08,301.4 126.87,301.5 127.65,301.59 128.43,301.69 129.22,301.78 130,301.87 130.78,301.96 131.56,302.05 132.35,302.14 133.13,302.23 133.91,302.31 134.7,302.4 135.48,302.48 136.26,302.57 137.04,302.65 137.83,302.73 138.61,302.81 139.39,302.89 140.18,302.97 140.96,303.05 141.74,303.13 142.52,303.2 143.31,303.28 144.09,303.35 144.87,303.43 145.66,303.5 146.44,303.58 147.22,303.65 148,303.73 148.79,303.8 149.57,303.87 150.35,303.94 151.14,304.02 151.92,304.09 152.7,304.16 153.48,304.23 154.27,304.3 155.05,304.37 155.83,304.44 156.62,304.51 157.4,304.58 158.18,304.65 158.96,304.72 159.75,304.79 160.53,304.85 161.31,304.92 162.1,304.99 162.88,305.05 163.66,305.12 164.44,305.18 165.23,305.25 166.01,305.31" fill="none" stroke="#808080" stroke-width="1" stroke-linejoin="round" stroke-dasharray="2.6,2"/>
<polyline points="72.85,319.04 73.63,302.41 74.41,296.18 75.2,293.29 75.98,291.46 76.76,290.04 77.55,288.84 78.33,287.83 79.11,286.99 79.89,286.3 80.68,285.72 81.46,285.2 82.24,284.71 83.03,284.27 83.81,283.87 84.59,283.51 85.37,283.2 86.16,282.94 86.94,282.74 87.72,282.57 88.51,282.4 89.29,282.25 90.07,282.11 90.85,281.99 91.64,281.89 92.42,281.81 93.2,281.77 93.99,281.75 94.77,281.76 95.55,281.76 96.33,281.77 97.12,281.79 97.9,281.81 98.68,281.83 99.47,281.85 100.25,281.88 101.03,281.91 101.81,281.96 102.6,282.04 103.38,282.14 104.16,282.24 104.95,282.36 105.73,282.47 106.51,282.59 107.29,282.69 108.08,282.79 108.86,282.9 109.64,283 110.43,283.11 111.21,283.22 111.99,283.33 112.77,283.44 113.56,283.55 114.34,283.66 115.12,283.77 115.91,283.88 116.69,284 117.47,284.11 118.25,284.22 119.04,284.33 119.82,284.45 120.6,284.56 121.39,284.67 122.17,284.78 122.95,284.89 123.73,285 124.52,285.11 125.3,285.22 126.08,285.34 126.87,285.45 127.65,285.56 128.43,285.67 129.22,285.78 130,285.89 130.78,286 131.56,286.11 132.35,286.21 133.13,286.32 133.91,286.42 134.7,286.52 135.48,286.62 136.26,286.72 137.04,286.82 137.83,286.91 138.61,287.01 139.39,287.1 140.18,287.2 140.96,287.29 141.74,287.38 142.52,287.47 143.31,287.56 144.09,287.66 144.87,287.75 145.66,287.84 146.44,287.93 147.22,288.02 148,288.12 148.79,288.21 149.57,288.3 150.35,288.4 151.14,288.49 151.92,288.58 152.7,288.67 153.48,288.77 154.27,288.86 155.05,288.95 155.83,289.04 156.62,289.13 157.4,289.23 158.18,289.32 158.96,289.41 159.75,289.5 160.53,289.59 161.31,289.69 162.1,289.78 162.88,289.87 163.66,289.96 164.44,290.05 165.23,290.14 166.01,290.23" fill="none" stroke="#000" stroke-width="1.1" stroke-linejoin="round"/>
<polyline points="72.85,319.04 73.63,299.18 74.41,292.16 75.2,288.52 75.98,286.16 76.76,284.65 77.55,283.43 78.33,282.56 79.11,282.14 79.89,281.96 80.68,281.82 81.46,281.71 82.24,281.64 83.03,281.62 83.81,281.65 84.59,281.76 85.37,281.91 86.16,282.1 86.94,282.31 87.72,282.52 88.51,282.7 89.29,282.89 90.07,283.08 90.85,283.29 91.64,283.49 92.42,283.69 93.2,283.89 93.99,284.07 94.77,284.25 95.55,284.42 96.33,284.59 97.12,284.76 97.9,284.92 98.68,285.08 99.47,285.24 100.25,285.4 101.03,285.56 101.81,285.71 102.6,285.86 103.38,286.01 104.16,286.16 104.95,286.31 105.73,286.45 106.51,286.59 107.29,286.73 108.08,286.87 108.86,287 109.64,287.14 110.43,287.27 111.21,287.4 111.99,287.53 112.77,287.66 113.56,287.78 114.34,287.91 115.12,288.03 115.91,288.15 116.69,288.27 117.47,288.39 118.25,288.51 119.04,288.63 119.82,288.75 120.6,288.86 121.39,288.98 122.17,289.09 122.95,289.21 123.73,289.32 124.52,289.44 125.3,289.55 126.08,289.66 126.87,289.77 127.65,289.88 128.43,289.99 129.22,290.1 130,290.21 130.78,290.32 131.56,290.42 132.35,290.53 133.13,290.63 133.91,290.73 134.7,290.83 135.48,290.93 136.26,291.03 137.04,291.12 137.83,291.22 138.61,291.31 139.39,291.4 140.18,291.49 140.96,291.59 141.74,291.68 142.52,291.77 143.31,291.86 144.09,291.95 144.87,292.04 145.66,292.14 146.44,292.23 147.22,292.33 148,292.43 148.79,292.53 149.57,292.62 150.35,292.72 151.14,292.82 151.92,292.92 152.7,293.03 153.48,293.13 154.27,293.23 155.05,293.33 155.83,293.43 156.62,293.54 157.4,293.64 158.18,293.74 158.96,293.85 159.75,293.95 160.53,294.06 161.31,294.17 162.1,294.27 162.88,294.38 163.66,294.49 164.44,294.59 165.23,294.7 166.01,294.81" fill="none" stroke="#000" stroke-width="1.15" stroke-linejoin="round" stroke-dasharray="3,2"/>
<line x1="238.3" y1="319.4" x2="342.54" y2="319.4" stroke="#d0d0d0" stroke-width="0.8"/>
<line x1="238.3" y1="319.4" x2="238.3" y2="252.4" stroke="#d0d0d0" stroke-width="0.8"/>
<text x="238.3" y="330.9" font-size="7.6" text-anchor="middle" stroke="#000" stroke-width="0.3">0</text>
<line x1="238.3" y1="319.4" x2="238.3" y2="320.9" stroke="#d0d0d0" stroke-width="0.6"/>
<text x="264.36" y="330.9" font-size="7.6" text-anchor="middle" stroke="#000" stroke-width="0.3">100</text>
<line x1="264.36" y1="319.4" x2="264.36" y2="320.9" stroke="#d0d0d0" stroke-width="0.6"/>
<text x="290.42" y="330.9" font-size="7.6" text-anchor="middle" stroke="#000" stroke-width="0.3">200</text>
<line x1="290.42" y1="319.4" x2="290.42" y2="320.9" stroke="#d0d0d0" stroke-width="0.6"/>
<text x="316.48" y="330.9" font-size="7.6" text-anchor="middle" stroke="#000" stroke-width="0.3">300</text>
<line x1="316.48" y1="319.4" x2="316.48" y2="320.9" stroke="#d0d0d0" stroke-width="0.6"/>
<text x="342.54" y="330.9" font-size="7.6" text-anchor="middle" stroke="#000" stroke-width="0.3">400</text>
<line x1="342.54" y1="319.4" x2="342.54" y2="320.9" stroke="#d0d0d0" stroke-width="0.6"/>
<text x="235.3" y="322.4" font-size="8.3" text-anchor="end" stroke="#000" stroke-width="0.3">0</text>
<line x1="236.8" y1="319.4" x2="238.3" y2="319.4" stroke="#d0d0d0" stroke-width="0.6"/>
<text x="235.3" y="288.9" font-size="8.3" text-anchor="end" stroke="#000" stroke-width="0.3">1</text>
<line x1="236.8" y1="285.9" x2="238.3" y2="285.9" stroke="#d0d0d0" stroke-width="0.6"/>
<text x="235.3" y="255.4" font-size="8.3" text-anchor="end" stroke="#000" stroke-width="0.3">2</text>
<line x1="236.8" y1="252.4" x2="238.3" y2="252.4" stroke="#d0d0d0" stroke-width="0.6"/>
<text x="291" y="338.6" font-size="7.6" text-anchor="middle" stroke="#000" stroke-width="0.3">Time (sec)</text>
<text x="224.6" y="286.2" font-size="8.1" text-anchor="middle" transform="rotate(-90 224.6 286.2)" stroke="#000" stroke-width="0.3">ATP secretion <tspan font-size="6.7">(nmol)</tspan></text>
<polyline points="238.42,316.89 239.3,316.89 240.17,316.89 241.04,316.89 241.92,316.89 242.79,316.89 243.67,316.89 244.54,316.89 245.41,316.89 246.29,316.89 247.16,316.89 248.03,316.89 248.91,316.89 249.78,316.89 250.65,316.89 251.53,316.89 252.4,316.89 253.27,316.87 254.15,316.79 255.02,316.68 255.89,316.53 256.77,316.28 257.64,315.95 258.51,315.56 259.39,315.12 260.26,314.65 261.13,314.18 262.01,313.72 262.88,313.25 263.75,312.75 264.63,312.21 265.5,311.65 266.37,311.09 267.25,310.55 268.12,310.03 268.99,309.54 269.87,309.07 270.74,308.6 271.61,308.14 272.49,307.69 273.36,307.27 274.23,306.89 275.11,306.55 275.98,306.26 276.85,305.98 277.73,305.72 278.6,305.46 279.47,305.24 280.35,305.04 281.22,304.89 282.09,304.79 282.97,304.73 283.84,304.68 284.71,304.63 285.59,304.59 286.46,304.55 287.33,304.53 288.21,304.51 289.08,304.5 289.95,304.51 290.83,304.53 291.7,304.56 292.57,304.6 293.45,304.65 294.32,304.7 295.19,304.74 296.07,304.79 296.94,304.84 297.81,304.89 298.69,304.96 299.56,305.02 300.43,305.09 301.31,305.16 302.18,305.24 303.05,305.31 303.93,305.39 304.8,305.47 305.67,305.55 306.55,305.62 307.42,305.7 308.29,305.77 309.17,305.85 310.04,305.92 310.91,305.99 311.79,306.06 312.66,306.13 313.53,306.21 314.41,306.28 315.28,306.36 316.15,306.43 317.03,306.5 317.9,306.57 318.77,306.64 319.65,306.71 320.52,306.78 321.4,306.84 322.27,306.9 323.14,306.96 324.02,307.01 324.89,307.07 325.76,307.13 326.64,307.18 327.51,307.23 328.38,307.29 329.26,307.34 330.13,307.39 331,307.44 331.88,307.49 332.75,307.54 333.62,307.59 334.5,307.64 335.37,307.68 336.24,307.73 337.12,307.77 337.99,307.81 338.86,307.85 339.74,307.89 340.61,307.93 341.48,307.97 342.36,308" fill="none" stroke="#8c8c8c" stroke-width="1" stroke-linejoin="round"/>
<polyline points="255.39,316.89 256.12,316.66 256.85,316.41 257.58,316.15 258.31,315.87 259.04,315.58 259.77,315.27 260.5,314.95 261.23,314.61 261.97,314.27 262.7,313.91 263.43,313.5 264.16,313.06 264.89,312.61 265.62,312.14 266.35,311.66 267.08,311.2 267.81,310.75 268.54,310.33 269.27,309.93 270,309.54 270.74,309.15 271.47,308.77 272.2,308.4 272.93,308.04 273.66,307.71 274.39,307.39 275.12,307.1 275.85,306.83 276.58,306.58 277.31,306.34 278.04,306.1 278.77,305.88 279.5,305.67 280.24,305.48 280.97,305.31 281.7,305.15 282.43,305.02 283.16,304.9 283.89,304.78 284.62,304.66 285.35,304.54 286.08,304.44 286.81,304.36 287.54,304.29 288.27,304.25 289.01,304.24 289.74,304.24 290.47,304.25 291.2,304.28 291.93,304.3 292.66,304.34 293.39,304.38 294.12,304.42 294.85,304.46 295.58,304.49 296.31,304.53 297.04,304.58 297.78,304.62 298.51,304.67 299.24,304.73 299.97,304.78 300.7,304.84 301.43,304.9 302.16,304.96 302.89,305.03 303.62,305.09 304.35,305.16 305.08,305.22 305.81,305.29 306.55,305.35 307.28,305.42 308.01,305.48 308.74,305.54 309.47,305.6 310.2,305.66 310.93,305.72 311.66,305.78 312.39,305.84 313.12,305.9 313.85,305.97 314.58,306.03 315.32,306.09 316.05,306.15 316.78,306.21 317.51,306.27 318.24,306.33 318.97,306.39 319.7,306.44 320.43,306.5 321.16,306.55 321.89,306.6 322.62,306.65 323.35,306.7 324.09,306.75 324.82,306.8 325.55,306.84 326.28,306.89 327.01,306.93 327.74,306.98 328.47,307.02 329.2,307.07 329.93,307.11 330.66,307.15 331.39,307.2 332.12,307.24 332.86,307.28 333.59,307.32 334.32,307.36 335.05,307.4 335.78,307.43 336.51,307.47 337.24,307.51 337.97,307.54 338.7,307.58 339.43,307.61 340.16,307.64 340.89,307.68 341.63,307.71 342.36,307.74" fill="none" stroke="#8c8c8c" stroke-width="0.9" stroke-linejoin="round" stroke-dasharray="2.2,1.8"/>
<polyline points="238.42,316.89 239.3,316.89 240.17,316.89 241.04,316.89 241.92,316.89 242.79,316.89 243.67,316.89 244.54,316.89 245.41,316.89 246.29,316.89 247.16,316.89 248.03,316.89 248.91,316.89 249.78,316.89 250.65,316.87 251.53,316.79 252.4,316.67 253.27,316.44 254.15,315.94 255.02,315.29 255.89,314.6 256.77,313.79 257.64,312.84 258.51,311.74 259.39,310.35 260.26,308.78 261.13,307.2 262.01,305.75 262.88,304.44 263.75,303.14 264.63,301.92 265.5,300.86 266.37,300.01 267.25,299.27 268.12,298.6 268.99,298 269.87,297.47 270.74,297.03 271.61,296.67 272.49,296.37 273.36,296.1 274.23,295.85 275.11,295.65 275.98,295.48 276.85,295.36 277.73,295.26 278.6,295.18 279.47,295.09 280.35,295.02 281.22,294.95 282.09,294.9 282.97,294.85 283.84,294.83 284.71,294.81 285.59,294.81 286.46,294.81 287.33,294.81 288.21,294.81 289.08,294.81 289.95,294.81 290.83,294.81 291.7,294.81 292.57,294.81 293.45,294.81 294.32,294.81 295.19,294.81 296.07,294.81 296.94,294.82 297.81,294.83 298.69,294.85 299.56,294.88 300.43,294.91 301.31,294.95 302.18,294.98 303.05,295.03 303.93,295.07 304.8,295.12 305.67,295.16 306.55,295.21 307.42,295.26 308.29,295.3 309.17,295.35 310.04,295.39 310.91,295.44 311.79,295.48 312.66,295.53 313.53,295.59 314.41,295.64 315.28,295.69 316.15,295.75 317.03,295.81 317.9,295.86 318.77,295.92 319.65,295.97 320.52,296.03 321.4,296.08 322.27,296.13 323.14,296.18 324.02,296.23 324.89,296.28 325.76,296.33 326.64,296.38 327.51,296.43 328.38,296.48 329.26,296.53 330.13,296.58 331,296.63 331.88,296.67 332.75,296.72 333.62,296.77 334.5,296.82 335.37,296.87 336.24,296.91 337.12,296.96 337.99,297.01 338.86,297.05 339.74,297.1 340.61,297.14 341.48,297.19 342.36,297.23" fill="none" stroke="#000" stroke-width="1.2" stroke-linejoin="round"/>
<polyline points="255.39,315.01 256.12,314.41 256.85,313.71 257.58,312.91 258.31,312.02 259.04,310.92 259.77,309.67 260.5,308.34 261.23,307.02 261.97,305.81 262.7,304.72 263.43,303.62 264.16,302.56 264.89,301.58 265.62,300.73 266.35,300.03 267.08,299.44 267.81,298.91 268.54,298.43 269.27,297.99 270,297.57 270.74,297.16 271.47,296.74 272.2,296.32 272.93,295.9 273.66,295.5 274.39,295.12 275.12,294.76 275.85,294.42 276.58,294.08 277.31,293.74 278.04,293.43 278.77,293.16 279.5,292.95 280.24,292.79 280.97,292.63 281.7,292.48 282.43,292.35 283.16,292.25 283.89,292.17 284.62,292.13 285.35,292.12 286.08,292.12 286.81,292.13 287.54,292.14 288.27,292.15 289.01,292.17 289.74,292.19 290.47,292.21 291.2,292.23 291.93,292.25 292.66,292.27 293.39,292.3 294.12,292.33 294.85,292.35 295.58,292.38 296.31,292.41 297.04,292.44 297.78,292.48 298.51,292.53 299.24,292.58 299.97,292.63 300.7,292.69 301.43,292.75 302.16,292.81 302.89,292.87 303.62,292.94 304.35,293.01 305.08,293.08 305.81,293.15 306.55,293.22 307.28,293.29 308.01,293.35 308.74,293.42 309.47,293.49 310.2,293.55 310.93,293.62 311.66,293.7 312.39,293.77 313.12,293.85 313.85,293.92 314.58,294 315.32,294.08 316.05,294.16 316.78,294.24 317.51,294.31 318.24,294.39 318.97,294.46 319.7,294.54 320.43,294.61 321.16,294.68 321.89,294.74 322.62,294.81 323.35,294.87 324.09,294.92 324.82,294.98 325.55,295.04 326.28,295.1 327.01,295.16 327.74,295.21 328.47,295.27 329.2,295.32 329.93,295.38 330.66,295.43 331.39,295.48 332.12,295.54 332.86,295.59 333.59,295.64 334.32,295.69 335.05,295.73 335.78,295.78 336.51,295.83 337.24,295.87 337.97,295.92 338.7,295.96 339.43,296 340.16,296.04 340.89,296.08 341.63,296.12 342.36,296.16" fill="none" stroke="#000" stroke-width="1.1" stroke-linejoin="round" stroke-dasharray="2.2,1.8"/>
<line x1="59.3" y1="425.1" x2="172.4" y2="425.1" stroke="#d0d0d0" stroke-width="0.8"/>
<line x1="59.3" y1="425.1" x2="59.3" y2="351" stroke="#d0d0d0" stroke-width="0.8"/>
<text x="50.6" y="428.1" font-size="8.3" text-anchor="end" stroke="#000" stroke-width="0.3">0</text>
<line x1="57.1" y1="425.1" x2="59.3" y2="425.1" stroke="#d0d0d0" stroke-width="0.6"/>
<text x="50.6" y="415.75" font-size="8.3" text-anchor="end" stroke="#000" stroke-width="0.3">20</text>
<line x1="57.1" y1="412.75" x2="59.3" y2="412.75" stroke="#d0d0d0" stroke-width="0.6"/>
<text x="50.6" y="403.4" font-size="8.3" text-anchor="end" stroke="#000" stroke-width="0.3">40</text>
<line x1="57.1" y1="400.4" x2="59.3" y2="400.4" stroke="#d0d0d0" stroke-width="0.6"/>
<text x="50.6" y="391.05" font-size="8.3" text-anchor="end" stroke="#000" stroke-width="0.3">60</text>
<line x1="57.1" y1="388.05" x2="59.3" y2="388.05" stroke="#d0d0d0" stroke-width="0.6"/>
<text x="50.6" y="378.7" font-size="8.3" text-anchor="end" stroke="#000" stroke-width="0.3">80</text>
<line x1="57.1" y1="375.7" x2="59.3" y2="375.7" stroke="#d0d0d0" stroke-width="0.6"/>
<text x="50.6" y="366.35" font-size="8.3" text-anchor="end" stroke="#000" stroke-width="0.3">100</text>
<line x1="57.1" y1="363.35" x2="59.3" y2="363.35" stroke="#d0d0d0" stroke-width="0.6"/>
<text x="50.6" y="354" font-size="8.3" text-anchor="end" stroke="#000" stroke-width="0.3">120</text>
<line x1="57.1" y1="351" x2="59.3" y2="351" stroke="#d0d0d0" stroke-width="0.6"/>
<text x="30.6" y="389.2" font-size="8.7" text-anchor="middle" transform="rotate(-90 30.6 389.2)" stroke="#000" stroke-width="0.3">ATP secretion (%)</text>
<rect x="68.15" y="363.7" width="11.4" height="61.4" fill="#fff" stroke="#999" stroke-width="0.7"/>
<rect x="96.1" y="381.26" width="11.7" height="43.84" fill="#b4b4b4"/>
<line x1="101.95" y1="378.4" x2="101.95" y2="383.7" stroke="#9a9a9a" stroke-width="0.8"/>
<rect x="124.3" y="369.4" width="11.6" height="55.7" fill="#6e6e6e"/>
<line x1="130.1" y1="365.2" x2="130.1" y2="374.2" stroke="#9a9a9a" stroke-width="0.8"/>
<rect x="152.7" y="384.35" width="11.4" height="40.75" fill="#000"/>
<line x1="158.4" y1="380.3" x2="158.4" y2="384.3" stroke="#9a9a9a" stroke-width="0.8"/>
<text x="75.1" y="433.8" font-size="7.3" text-anchor="middle" stroke="#000" stroke-width="0.3">WT</text>
<text x="102.7" y="433.8" font-size="7.3" text-anchor="middle" stroke="#000" stroke-width="0.3">-</text>
<text x="130" y="433.8" font-size="7.3" text-anchor="middle" stroke="#000" stroke-width="0.3">wtPDI</text>
<text x="159" y="433.8" font-size="7.3" text-anchor="middle" stroke="#000" stroke-width="0.3">dmPDI</text>
<line x1="96.5" y1="437.3" x2="172.4" y2="437.3" stroke="#222" stroke-width="0.9"/>
<text x="129.9" y="445.8" font-size="7.3" text-anchor="middle" stroke="#000" stroke-width="0.3">PDI null</text>
<text x="102.3" y="378.5" font-size="12.6" text-anchor="middle" font-weight="bold" stroke="#000" stroke-width="0.3">**</text>
<text x="159.2" y="379.6" font-size="12.6" text-anchor="middle" font-weight="bold" stroke="#000" stroke-width="0.3">**</text>
<text x="112.1" y="361.4" font-size="7.2" text-anchor="middle" font-weight="bold" fill="#111" font-style="italic" stroke="#111" stroke-width="0.35">##</text>
<line x1="99.5" y1="364.2" x2="126.3" y2="364.2" stroke="#666" stroke-width="0.9"/>
<text x="147.7" y="361.4" font-size="7.2" text-anchor="middle" font-weight="bold" fill="#111" font-style="italic" stroke="#111" stroke-width="0.35">##</text>
<line x1="134.1" y1="364.7" x2="160.1" y2="364.7" stroke="#666" stroke-width="0.9"/>
<line x1="238.4" y1="428.3" x2="350.4" y2="428.3" stroke="#d0d0d0" stroke-width="0.8"/>
<line x1="238.4" y1="428.3" x2="238.4" y2="355.1" stroke="#d0d0d0" stroke-width="0.8"/>
<text x="229.7" y="431.3" font-size="8.3" text-anchor="end" stroke="#000" stroke-width="0.3">0</text>
<line x1="236.2" y1="428.3" x2="238.4" y2="428.3" stroke="#d0d0d0" stroke-width="0.6"/>
<text x="229.7" y="419.1" font-size="8.3" text-anchor="end" stroke="#000" stroke-width="0.3">20</text>
<line x1="236.2" y1="416.1" x2="238.4" y2="416.1" stroke="#d0d0d0" stroke-width="0.6"/>
<text x="229.7" y="406.9" font-size="8.3" text-anchor="end" stroke="#000" stroke-width="0.3">40</text>
<line x1="236.2" y1="403.9" x2="238.4" y2="403.9" stroke="#d0d0d0" stroke-width="0.6"/>
<text x="229.7" y="394.7" font-size="8.3" text-anchor="end" stroke="#000" stroke-width="0.3">60</text>
<line x1="236.2" y1="391.7" x2="238.4" y2="391.7" stroke="#d0d0d0" stroke-width="0.6"/>
<text x="229.7" y="382.5" font-size="8.3" text-anchor="end" stroke="#000" stroke-width="0.3">80</text>
<line x1="236.2" y1="379.5" x2="238.4" y2="379.5" stroke="#d0d0d0" stroke-width="0.6"/>
<text x="229.7" y="370.3" font-size="8.3" text-anchor="end" stroke="#000" stroke-width="0.3">100</text>
<line x1="236.2" y1="367.3" x2="238.4" y2="367.3" stroke="#d0d0d0" stroke-width="0.6"/>
<text x="229.7" y="358.1" font-size="8.3" text-anchor="end" stroke="#000" stroke-width="0.3">120</text>
<line x1="236.2" y1="355.1" x2="238.4" y2="355.1" stroke="#d0d0d0" stroke-width="0.6"/>
<text x="210.1" y="391.9" font-size="8.7" text-anchor="middle" transform="rotate(-90 210.1 391.9)" stroke="#000" stroke-width="0.3">ATP secretion (%)</text>
<rect x="247.65" y="367.65" width="11.1" height="60.65" fill="#fff" stroke="#999" stroke-width="0.7"/>
<rect x="274.9" y="382.92" width="11.8" height="45.38" fill="#b4b4b4"/>
<line x1="280.8" y1="381.6" x2="280.8" y2="383.5" stroke="#9a9a9a" stroke-width="0.8"/>
<rect x="303.1" y="367.79" width="11.6" height="60.51" fill="#6e6e6e"/>
<line x1="308.9" y1="363.8" x2="308.9" y2="371.6" stroke="#9a9a9a" stroke-width="0.8"/>
<rect x="331.2" y="385.11" width="11.6" height="43.19" fill="#000"/>
<line x1="337" y1="382.9" x2="337" y2="385.1" stroke="#9a9a9a" stroke-width="0.8"/>
<text x="254.5" y="437" font-size="7.3" text-anchor="middle" stroke="#000" stroke-width="0.3">WT</text>
<text x="279.5" y="437" font-size="7.3" text-anchor="middle" stroke="#000" stroke-width="0.3">-</text>
<text x="307" y="437" font-size="7.3" text-anchor="middle" stroke="#000" stroke-width="0.3">wtPDI</text>
<text x="336.4" y="437" font-size="7.3" text-anchor="middle" stroke="#000" stroke-width="0.3">dmPDI</text>
<line x1="274.9" y1="440.9" x2="350.4" y2="440.9" stroke="#222" stroke-width="0.9"/>
<text x="308.4" y="449.2" font-size="7.3" text-anchor="middle" stroke="#000" stroke-width="0.3">PDI null</text>
<text x="281" y="379.6" font-size="12.6" text-anchor="middle" font-weight="bold" stroke="#000" stroke-width="0.3">**</text>
<text x="337.2" y="379.5" font-size="12.6" text-anchor="middle" font-weight="bold" stroke="#000" stroke-width="0.3">**</text>
<text x="294" y="359.7" font-size="7.2" text-anchor="middle" font-weight="bold" fill="#111" font-style="italic" stroke="#111" stroke-width="0.35">##</text>
<line x1="281" y1="363" x2="306.4" y2="363" stroke="#666" stroke-width="0.9"/>
<text x="325.3" y="359.7" font-size="7.2" text-anchor="middle" font-weight="bold" fill="#111" font-style="italic" stroke="#111" stroke-width="0.35">##</text>
<line x1="312.1" y1="363" x2="338.1" y2="363" stroke="#666" stroke-width="0.9"/>
<text x="9.8" y="465.3" font-size="10.8" font-weight="bold" stroke="#000" stroke-width="0.3">D</text>
<line x1="54" y1="531.7" x2="228" y2="531.7" stroke="#808080" stroke-width="0.9"/>
<rect x="58.85" y="525.77" width="5.8" height="37.33" fill="#fff" stroke="#000" stroke-width="0.7"/>
<rect x="65" y="523.54" width="6.6" height="39.56" fill="#000"/>
<line x1="61.75" y1="522.91" x2="61.75" y2="527.93" stroke="#000" stroke-width="0.6"/>
<line x1="60.75" y1="522.91" x2="62.75" y2="522.91" stroke="#000" stroke-width="0.6"/>
<line x1="60.75" y1="527.93" x2="62.75" y2="527.93" stroke="#000" stroke-width="0.6"/>
<line x1="68.3" y1="522.59" x2="68.3" y2="523.54" stroke="#000" stroke-width="0.6"/>
<line x1="67.3" y1="522.59" x2="69.3" y2="522.59" stroke="#000" stroke-width="0.6"/>
<line x1="68.3" y1="523.54" x2="68.3" y2="524.48" stroke="#ddd" stroke-width="0.5"/>
<text x="65" y="575" font-size="8.4" text-anchor="middle" stroke="#000" stroke-width="0.3">-</text>
<rect x="80.6" y="495.63" width="5.8" height="67.47" fill="#fff" stroke="#000" stroke-width="0.7"/>
<rect x="86.75" y="501.87" width="6.6" height="61.23" fill="#000"/>
<line x1="83.5" y1="489.94" x2="83.5" y2="500.61" stroke="#000" stroke-width="0.6"/>
<line x1="82.5" y1="489.94" x2="84.5" y2="489.94" stroke="#000" stroke-width="0.6"/>
<line x1="82.5" y1="500.61" x2="84.5" y2="500.61" stroke="#000" stroke-width="0.6"/>
<line x1="90.05" y1="498.1" x2="90.05" y2="501.87" stroke="#000" stroke-width="0.6"/>
<line x1="89.05" y1="498.1" x2="91.05" y2="498.1" stroke="#000" stroke-width="0.6"/>
<line x1="90.05" y1="501.87" x2="90.05" y2="505.64" stroke="#ddd" stroke-width="0.5"/>
<text x="86.75" y="575" font-size="8.4" text-anchor="middle" stroke="#000" stroke-width="0.3">+</text>
<rect x="102.35" y="527.65" width="5.8" height="35.45" fill="#fff" stroke="#000" stroke-width="0.7"/>
<rect x="108.5" y="526.68" width="6.6" height="36.42" fill="#000"/>
<line x1="105.25" y1="526.36" x2="105.25" y2="528.25" stroke="#000" stroke-width="0.6"/>
<line x1="104.25" y1="526.36" x2="106.25" y2="526.36" stroke="#000" stroke-width="0.6"/>
<line x1="104.25" y1="528.25" x2="106.25" y2="528.25" stroke="#000" stroke-width="0.6"/>
<line x1="111.8" y1="526.05" x2="111.8" y2="526.68" stroke="#000" stroke-width="0.6"/>
<line x1="110.8" y1="526.05" x2="112.8" y2="526.05" stroke="#000" stroke-width="0.6"/>
<line x1="111.8" y1="526.68" x2="111.8" y2="527.3" stroke="#ddd" stroke-width="0.5"/>
<text x="108.5" y="575" font-size="8.4" text-anchor="middle" stroke="#000" stroke-width="0.3">-</text>
<rect x="124.1" y="516.98" width="5.8" height="46.12" fill="#fff" stroke="#000" stroke-width="0.7"/>
<rect x="130.25" y="516" width="6.6" height="47.1" fill="#000"/>
<line x1="127" y1="516" x2="127" y2="517.26" stroke="#000" stroke-width="0.6"/>
<line x1="126" y1="516" x2="128" y2="516" stroke="#000" stroke-width="0.6"/>
<line x1="126" y1="517.26" x2="128" y2="517.26" stroke="#000" stroke-width="0.6"/>
<line x1="133.55" y1="512.23" x2="133.55" y2="516" stroke="#000" stroke-width="0.6"/>
<line x1="132.55" y1="512.23" x2="134.55" y2="512.23" stroke="#000" stroke-width="0.6"/>
<line x1="133.55" y1="516" x2="133.55" y2="519.77" stroke="#ddd" stroke-width="0.5"/>
<text x="130.25" y="575" font-size="8.4" text-anchor="middle" stroke="#000" stroke-width="0.3">+</text>
<rect x="145.85" y="527.34" width="5.8" height="35.76" fill="#fff" stroke="#000" stroke-width="0.7"/>
<rect x="152" y="529.82" width="6.6" height="33.28" fill="#000"/>
<line x1="148.75" y1="526.05" x2="148.75" y2="527.93" stroke="#000" stroke-width="0.6"/>
<line x1="147.75" y1="526.05" x2="149.75" y2="526.05" stroke="#000" stroke-width="0.6"/>
<line x1="147.75" y1="527.93" x2="149.75" y2="527.93" stroke="#000" stroke-width="0.6"/>
<line x1="155.3" y1="529.19" x2="155.3" y2="529.82" stroke="#000" stroke-width="0.6"/>
<line x1="154.3" y1="529.19" x2="156.3" y2="529.19" stroke="#000" stroke-width="0.6"/>
<line x1="155.3" y1="529.82" x2="155.3" y2="530.44" stroke="#ddd" stroke-width="0.5"/>
<text x="152" y="575" font-size="8.4" text-anchor="middle" stroke="#000" stroke-width="0.3">-</text>
<rect x="167.6" y="503.79" width="5.8" height="59.31" fill="#fff" stroke="#000" stroke-width="0.7"/>
<rect x="173.75" y="505.32" width="6.6" height="57.78" fill="#000"/>
<line x1="170.5" y1="500.3" x2="170.5" y2="506.58" stroke="#000" stroke-width="0.6"/>
<line x1="169.5" y1="500.3" x2="171.5" y2="500.3" stroke="#000" stroke-width="0.6"/>
<line x1="169.5" y1="506.58" x2="171.5" y2="506.58" stroke="#000" stroke-width="0.6"/>
<line x1="177.05" y1="503.44" x2="177.05" y2="505.32" stroke="#000" stroke-width="0.6"/>
<line x1="176.05" y1="503.44" x2="178.05" y2="503.44" stroke="#000" stroke-width="0.6"/>
<line x1="177.05" y1="505.32" x2="177.05" y2="507.21" stroke="#ddd" stroke-width="0.5"/>
<text x="173.75" y="575" font-size="8.4" text-anchor="middle" stroke="#000" stroke-width="0.3">+</text>
<rect x="189.35" y="524.83" width="5.8" height="38.27" fill="#fff" stroke="#000" stroke-width="0.7"/>
<rect x="195.5" y="526.99" width="6.6" height="36.11" fill="#000"/>
<line x1="192.25" y1="523.85" x2="192.25" y2="525.11" stroke="#000" stroke-width="0.6"/>
<line x1="191.25" y1="523.85" x2="193.25" y2="523.85" stroke="#000" stroke-width="0.6"/>
<line x1="191.25" y1="525.11" x2="193.25" y2="525.11" stroke="#000" stroke-width="0.6"/>
<line x1="198.8" y1="526.36" x2="198.8" y2="526.99" stroke="#000" stroke-width="0.6"/>
<line x1="197.8" y1="526.36" x2="199.8" y2="526.36" stroke="#000" stroke-width="0.6"/>
<line x1="198.8" y1="526.99" x2="198.8" y2="527.62" stroke="#ddd" stroke-width="0.5"/>
<text x="195.5" y="575" font-size="8.4" text-anchor="middle" stroke="#000" stroke-width="0.3">-</text>
<rect x="211.1" y="506.3" width="5.8" height="56.8" fill="#fff" stroke="#000" stroke-width="0.7"/>
<rect x="217.25" y="508.46" width="6.6" height="54.64" fill="#000"/>
<line x1="214" y1="503.44" x2="214" y2="508.46" stroke="#000" stroke-width="0.6"/>
<line x1="213" y1="503.44" x2="215" y2="503.44" stroke="#000" stroke-width="0.6"/>
<line x1="213" y1="508.46" x2="215" y2="508.46" stroke="#000" stroke-width="0.6"/>
<line x1="220.55" y1="500.61" x2="220.55" y2="508.46" stroke="#000" stroke-width="0.6"/>
<line x1="219.55" y1="500.61" x2="221.55" y2="500.61" stroke="#000" stroke-width="0.6"/>
<line x1="220.55" y1="508.46" x2="220.55" y2="516.31" stroke="#ddd" stroke-width="0.5"/>
<text x="217.25" y="575" font-size="8.4" text-anchor="middle" stroke="#000" stroke-width="0.3">+</text>
<line x1="54" y1="563.1" x2="228" y2="563.1" stroke="#111" stroke-width="1.1"/>
<line x1="54" y1="563.6" x2="54" y2="468.9" stroke="#222" stroke-width="1.1"/>
<line x1="51.5" y1="563.1" x2="54" y2="563.1" stroke="#000" stroke-width="0.8"/>
<line x1="52.5" y1="547.4" x2="54" y2="547.4" stroke="#000" stroke-width="0.7"/>
<text x="47.6" y="566.2" font-size="8.6" text-anchor="end" stroke="#000" stroke-width="0.3">0</text>
<line x1="51.5" y1="531.7" x2="54" y2="531.7" stroke="#000" stroke-width="0.8"/>
<line x1="52.5" y1="516" x2="54" y2="516" stroke="#000" stroke-width="0.7"/>
<text x="47.6" y="534.8" font-size="8.6" text-anchor="end" stroke="#000" stroke-width="0.3">1</text>
<line x1="51.5" y1="500.3" x2="54" y2="500.3" stroke="#000" stroke-width="0.8"/>
<line x1="52.5" y1="484.6" x2="54" y2="484.6" stroke="#000" stroke-width="0.7"/>
<text x="47.6" y="503.4" font-size="8.6" text-anchor="end" stroke="#000" stroke-width="0.3">2</text>
<line x1="51.5" y1="468.9" x2="54" y2="468.9" stroke="#000" stroke-width="0.8"/>
<text x="47.6" y="472" font-size="8.6" text-anchor="end" stroke="#000" stroke-width="0.3">3</text>
<text x="31.2" y="516" font-size="8.6" text-anchor="middle" transform="rotate(-90 31.2 516)" stroke="#000" stroke-width="0.3">Binding of exogeous PDI</text>
<text x="20.8" y="575.5" font-size="8.6" stroke="#000" stroke-width="0.3">Thrombin:</text>
<line x1="59.1" y1="578.5" x2="94.3" y2="578.5" stroke="#444" stroke-width="1.1"/>
<text x="76.1" y="589" font-size="8.8" text-anchor="middle" stroke="#000" stroke-width="0.3">WT</text>
<line x1="102.6" y1="578.5" x2="137.8" y2="578.5" stroke="#444" stroke-width="1.1"/>
<text x="119.6" y="589" font-size="8.8" text-anchor="middle" stroke="#000" stroke-width="0.3">β3 null</text>
<line x1="146.1" y1="578.5" x2="181.3" y2="578.5" stroke="#444" stroke-width="1.1"/>
<text x="163.1" y="589" font-size="8.8" text-anchor="middle" stroke="#000" stroke-width="0.3">Control</text>
<line x1="189.6" y1="578.5" x2="224.8" y2="578.5" stroke="#444" stroke-width="1.1"/>
<text x="206.6" y="589" font-size="8.8" text-anchor="middle" stroke="#000" stroke-width="0.3">PDI null</text>
<rect x="194.6" y="465.1" width="4.2" height="4.2" fill="#fff" stroke="#000" stroke-width="0.8"/>
<text x="201.1" y="469.7" font-size="8.9" stroke="#000" stroke-width="0.3">wtPDI</text>
<rect x="194.2" y="476.9" width="5" height="5" fill="#000"/>
<text x="201" y="482" font-size="8.9" stroke="#000" stroke-width="0.3">dmPDI</text>
<text x="236.6" y="465.3" font-size="10.8" font-weight="bold" stroke="#000" stroke-width="0.3">E</text>
<line x1="279.7" y1="531.1" x2="457.5" y2="531.1" stroke="#808080" stroke-width="0.9"/>
<rect x="284.6" y="533.96" width="5.8" height="28.54" fill="#fff" stroke="#000" stroke-width="0.7"/>
<rect x="290.75" y="535.5" width="6.6" height="27" fill="#000"/>
<line x1="287.5" y1="523.56" x2="287.5" y2="543.66" stroke="#000" stroke-width="0.6"/>
<line x1="286.5" y1="523.56" x2="288.5" y2="523.56" stroke="#000" stroke-width="0.6"/>
<line x1="286.5" y1="543.66" x2="288.5" y2="543.66" stroke="#000" stroke-width="0.6"/>
<line x1="294.05" y1="531.73" x2="294.05" y2="535.5" stroke="#000" stroke-width="0.6"/>
<line x1="293.05" y1="531.73" x2="295.05" y2="531.73" stroke="#000" stroke-width="0.6"/>
<line x1="294.05" y1="535.5" x2="294.05" y2="539.26" stroke="#ddd" stroke-width="0.5"/>
<text x="290.75" y="574.4" font-size="8.4" text-anchor="middle" stroke="#000" stroke-width="0.3">-</text>
<rect x="306.35" y="531.14" width="5.8" height="31.36" fill="#fff" stroke="#000" stroke-width="0.7"/>
<rect x="312.5" y="531.73" width="6.6" height="30.77" fill="#000"/>
<line x1="309.25" y1="524.51" x2="309.25" y2="537.07" stroke="#000" stroke-width="0.6"/>
<line x1="308.25" y1="524.51" x2="310.25" y2="524.51" stroke="#000" stroke-width="0.6"/>
<line x1="308.25" y1="537.07" x2="310.25" y2="537.07" stroke="#000" stroke-width="0.6"/>
<line x1="315.8" y1="527.96" x2="315.8" y2="531.73" stroke="#000" stroke-width="0.6"/>
<line x1="314.8" y1="527.96" x2="316.8" y2="527.96" stroke="#000" stroke-width="0.6"/>
<line x1="315.8" y1="531.73" x2="315.8" y2="535.5" stroke="#ddd" stroke-width="0.5"/>
<text x="312.5" y="574.4" font-size="8.4" text-anchor="middle" stroke="#000" stroke-width="0.3">+</text>
<rect x="328.1" y="535.85" width="5.8" height="26.65" fill="#fff" stroke="#000" stroke-width="0.7"/>
<rect x="334.25" y="534.55" width="6.6" height="27.95" fill="#000"/>
<line x1="331" y1="532.36" x2="331" y2="538.64" stroke="#000" stroke-width="0.6"/>
<line x1="330" y1="532.36" x2="332" y2="532.36" stroke="#000" stroke-width="0.6"/>
<line x1="330" y1="538.64" x2="332" y2="538.64" stroke="#000" stroke-width="0.6"/>
<line x1="337.55" y1="531.41" x2="337.55" y2="534.55" stroke="#000" stroke-width="0.6"/>
<line x1="336.55" y1="531.41" x2="338.55" y2="531.41" stroke="#000" stroke-width="0.6"/>
<line x1="337.55" y1="534.55" x2="337.55" y2="537.69" stroke="#ddd" stroke-width="0.5"/>
<text x="334.25" y="574.4" font-size="8.4" text-anchor="middle" stroke="#000" stroke-width="0.3">-</text>
<rect x="349.85" y="531.45" width="5.8" height="31.05" fill="#fff" stroke="#000" stroke-width="0.7"/>
<rect x="356" y="528.27" width="6.6" height="34.23" fill="#000"/>
<line x1="352.75" y1="527.96" x2="352.75" y2="534.24" stroke="#000" stroke-width="0.6"/>
<line x1="351.75" y1="527.96" x2="353.75" y2="527.96" stroke="#000" stroke-width="0.6"/>
<line x1="351.75" y1="534.24" x2="353.75" y2="534.24" stroke="#000" stroke-width="0.6"/>
<line x1="359.3" y1="525.13" x2="359.3" y2="528.27" stroke="#000" stroke-width="0.6"/>
<line x1="358.3" y1="525.13" x2="360.3" y2="525.13" stroke="#000" stroke-width="0.6"/>
<line x1="359.3" y1="528.27" x2="359.3" y2="531.41" stroke="#ddd" stroke-width="0.5"/>
<text x="356" y="574.4" font-size="8.4" text-anchor="middle" stroke="#000" stroke-width="0.3">+</text>
<rect x="371.6" y="534.9" width="5.8" height="27.6" fill="#fff" stroke="#000" stroke-width="0.7"/>
<rect x="377.75" y="533.61" width="6.6" height="28.89" fill="#000"/>
<line x1="374.5" y1="533.61" x2="374.5" y2="535.5" stroke="#000" stroke-width="0.6"/>
<line x1="373.5" y1="533.61" x2="375.5" y2="533.61" stroke="#000" stroke-width="0.6"/>
<line x1="373.5" y1="535.5" x2="375.5" y2="535.5" stroke="#000" stroke-width="0.6"/>
<line x1="381.05" y1="531.1" x2="381.05" y2="533.61" stroke="#000" stroke-width="0.6"/>
<line x1="380.05" y1="531.1" x2="382.05" y2="531.1" stroke="#000" stroke-width="0.6"/>
<line x1="381.05" y1="533.61" x2="381.05" y2="536.12" stroke="#ddd" stroke-width="0.5"/>
<text x="377.75" y="574.4" font-size="8.4" text-anchor="middle" stroke="#000" stroke-width="0.3">-</text>
<rect x="393.35" y="529.57" width="5.8" height="32.93" fill="#fff" stroke="#000" stroke-width="0.7"/>
<rect x="399.5" y="531.73" width="6.6" height="30.77" fill="#000"/>
<line x1="396.25" y1="524.51" x2="396.25" y2="533.93" stroke="#000" stroke-width="0.6"/>
<line x1="395.25" y1="524.51" x2="397.25" y2="524.51" stroke="#000" stroke-width="0.6"/>
<line x1="395.25" y1="533.93" x2="397.25" y2="533.93" stroke="#000" stroke-width="0.6"/>
<line x1="402.8" y1="530.79" x2="402.8" y2="531.73" stroke="#000" stroke-width="0.6"/>
<line x1="401.8" y1="530.79" x2="403.8" y2="530.79" stroke="#000" stroke-width="0.6"/>
<line x1="402.8" y1="531.73" x2="402.8" y2="532.67" stroke="#ddd" stroke-width="0.5"/>
<text x="399.5" y="574.4" font-size="8.4" text-anchor="middle" stroke="#000" stroke-width="0.3">+</text>
<rect x="415.1" y="536.47" width="5.8" height="26.03" fill="#fff" stroke="#000" stroke-width="0.7"/>
<rect x="421.25" y="535.5" width="6.6" height="27" fill="#000"/>
<line x1="418" y1="532.98" x2="418" y2="539.26" stroke="#000" stroke-width="0.6"/>
<line x1="417" y1="532.98" x2="419" y2="532.98" stroke="#000" stroke-width="0.6"/>
<line x1="417" y1="539.26" x2="419" y2="539.26" stroke="#000" stroke-width="0.6"/>
<line x1="424.55" y1="532.36" x2="424.55" y2="535.5" stroke="#000" stroke-width="0.6"/>
<line x1="423.55" y1="532.36" x2="425.55" y2="532.36" stroke="#000" stroke-width="0.6"/>
<line x1="424.55" y1="535.5" x2="424.55" y2="538.64" stroke="#ddd" stroke-width="0.5"/>
<text x="421.25" y="574.4" font-size="8.4" text-anchor="middle" stroke="#000" stroke-width="0.3">-</text>
<rect x="436.85" y="531.45" width="5.8" height="31.05" fill="#fff" stroke="#000" stroke-width="0.7"/>
<rect x="443" y="532.98" width="6.6" height="29.52" fill="#000"/>
<line x1="439.75" y1="527.33" x2="439.75" y2="534.87" stroke="#000" stroke-width="0.6"/>
<line x1="438.75" y1="527.33" x2="440.75" y2="527.33" stroke="#000" stroke-width="0.6"/>
<line x1="438.75" y1="534.87" x2="440.75" y2="534.87" stroke="#000" stroke-width="0.6"/>
<line x1="446.3" y1="528.59" x2="446.3" y2="532.98" stroke="#000" stroke-width="0.6"/>
<line x1="445.3" y1="528.59" x2="447.3" y2="528.59" stroke="#000" stroke-width="0.6"/>
<line x1="446.3" y1="532.98" x2="446.3" y2="537.38" stroke="#ddd" stroke-width="0.5"/>
<text x="443" y="574.4" font-size="8.4" text-anchor="middle" stroke="#000" stroke-width="0.3">+</text>
<line x1="279.7" y1="562.5" x2="454" y2="562.5" stroke="#111" stroke-width="1.1"/>
<line x1="279.7" y1="563" x2="279.7" y2="468.3" stroke="#222" stroke-width="1.1"/>
<line x1="277.2" y1="562.5" x2="279.7" y2="562.5" stroke="#000" stroke-width="0.8"/>
<line x1="278.2" y1="546.8" x2="279.7" y2="546.8" stroke="#000" stroke-width="0.7"/>
<text x="273.4" y="564.8" font-size="8.6" text-anchor="end" stroke="#000" stroke-width="0.3">0</text>
<line x1="277.2" y1="531.1" x2="279.7" y2="531.1" stroke="#000" stroke-width="0.8"/>
<line x1="278.2" y1="515.4" x2="279.7" y2="515.4" stroke="#000" stroke-width="0.7"/>
<text x="273.4" y="533.4" font-size="8.6" text-anchor="end" stroke="#000" stroke-width="0.3">1</text>
<line x1="277.2" y1="499.7" x2="279.7" y2="499.7" stroke="#000" stroke-width="0.8"/>
<line x1="278.2" y1="484" x2="279.7" y2="484" stroke="#000" stroke-width="0.7"/>
<text x="273.4" y="502" font-size="8.6" text-anchor="end" stroke="#000" stroke-width="0.3">2</text>
<line x1="277.2" y1="468.3" x2="279.7" y2="468.3" stroke="#000" stroke-width="0.8"/>
<text x="273.4" y="470.6" font-size="8.6" text-anchor="end" stroke="#000" stroke-width="0.3">3</text>
<text x="256.4" y="515.4" font-size="8.6" text-anchor="middle" transform="rotate(-90 256.4 515.4)" stroke="#000" stroke-width="0.3">Binding of exogeous PDI</text>
<text x="246.7" y="574.9" font-size="8.6" stroke="#000" stroke-width="0.3">Thrombin:</text>
<line x1="284.85" y1="577.9" x2="320.05" y2="577.9" stroke="#444" stroke-width="1.1"/>
<text x="301.85" y="588.4" font-size="8.8" text-anchor="middle" stroke="#000" stroke-width="0.3">WT</text>
<line x1="328.35" y1="577.9" x2="363.55" y2="577.9" stroke="#444" stroke-width="1.1"/>
<text x="345.35" y="588.4" font-size="8.8" text-anchor="middle" stroke="#000" stroke-width="0.3">β3 null</text>
<line x1="371.85" y1="577.9" x2="407.05" y2="577.9" stroke="#444" stroke-width="1.1"/>
<text x="388.85" y="588.4" font-size="8.8" text-anchor="middle" stroke="#000" stroke-width="0.3">Control</text>
<line x1="415.35" y1="577.9" x2="450.55" y2="577.9" stroke="#444" stroke-width="1.1"/>
<text x="432.35" y="588.4" font-size="8.8" text-anchor="middle" stroke="#000" stroke-width="0.3">PDI null</text>
<rect x="412.4" y="468.2" width="4.2" height="4.2" fill="#fff" stroke="#000" stroke-width="0.8"/>
<text x="418.5" y="472.9" font-size="8.9" stroke="#000" stroke-width="0.3">wtPDI</text>
<rect x="412" y="478.6" width="5" height="5" fill="#000"/>
<text x="419" y="483.2" font-size="8.9" stroke="#000" stroke-width="0.3">dmPDI</text>
<text x="78.3" y="472" font-size="11" text-anchor="middle" font-weight="normal" stroke="#000" stroke-width="0.45">#</text>
<polyline points="83.75,475 83.75,468.25 128.25,468.25 128.25,495" fill="none" stroke="#000" stroke-width="1.1" stroke-linejoin="miter"/>
<line x1="83.75" y1="470" x2="83.75" y2="475.5" stroke="#000" stroke-width="1.1"/>
<polygon points="82.05,474.1 85.45,474.1 83.75,477.5" fill="#000"/>
<line x1="128.25" y1="490" x2="128.25" y2="496.5" stroke="#000" stroke-width="1.1"/>
<polygon points="126.55,495.1 129.95,495.1 128.25,498.5" fill="#000"/>
<polyline points="92,480 92,474.5 133.25,474.5 133.25,495" fill="none" stroke="#000" stroke-width="1.1" stroke-linejoin="miter"/>
<line x1="92" y1="478" x2="92" y2="482.8" stroke="#000" stroke-width="1.1"/>
<polygon points="90.3,481.4 93.7,481.4 92,484.8" fill="#000"/>
<line x1="133.25" y1="490" x2="133.25" y2="496.5" stroke="#000" stroke-width="1.1"/>
<polygon points="131.55,495.1 134.95,495.1 133.25,498.5" fill="#000"/>
<text x="139.4" y="485.3" font-size="11" text-anchor="middle" font-weight="normal" stroke="#000" stroke-width="0.45">#</text>
<text x="83.2" y="490.2" font-size="16" text-anchor="middle" font-weight="normal" stroke="#000" stroke-width="0.5" letter-spacing="0.9">**</text>
<text x="93.8" y="499.6" font-size="16" text-anchor="middle" font-weight="normal" stroke="#000" stroke-width="0.5" letter-spacing="0.9">**</text>
<text x="126.1" y="516.2" font-size="16" text-anchor="middle" font-weight="normal" stroke="#000" stroke-width="0.5" letter-spacing="0.9">*</text>
<text x="134.2" y="513.1" font-size="16" text-anchor="middle" font-weight="normal" stroke="#000" stroke-width="0.5" letter-spacing="0.9">*</text>
<text x="164.8" y="504.1" font-size="16" text-anchor="middle" font-weight="normal" stroke="#000" stroke-width="0.5" letter-spacing="0.9">**</text>
<text x="181.8" y="504.1" font-size="16" text-anchor="middle" font-weight="normal" stroke="#000" stroke-width="0.5" letter-spacing="0.9">**</text>
<text x="209.3" y="505.7" font-size="16" text-anchor="middle" font-weight="normal" stroke="#000" stroke-width="0.5" letter-spacing="0.9">**</text>
<text x="224.8" y="502.8" font-size="16" text-anchor="middle" font-weight="normal" stroke="#000" stroke-width="0.5" letter-spacing="0.9">**</text>
</g>
</svg>
</body></html>
